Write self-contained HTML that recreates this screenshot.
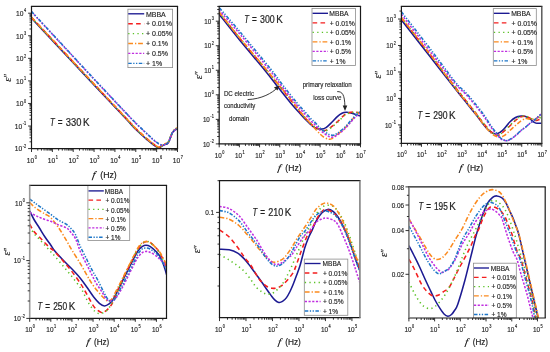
<!DOCTYPE html>
<html><head><meta charset="utf-8"><title>Dielectric loss spectra</title>
<style>html,body{margin:0;padding:0;background:#fff;width:550px;height:352px;overflow:hidden;font-family:"Liberation Sans",sans-serif}svg{display:block;will-change:transform}text{stroke:#1e1e1e;stroke-width:0.15px;paint-order:stroke}text.b{stroke-width:0.2px}</style>
</head><body>
<svg width="550" height="352" viewBox="0 0 550 352">
<rect width="550" height="352" fill="#fff"/>
<clipPath id="c1"><rect x="31.50" y="6.40" width="146.00" height="142.20"/></clipPath>
<g clip-path="url(#c1)" fill="none" stroke-width="1.55" stroke-linejoin="round">
<path d="M31.50 18.20 C36.25 23.27 50.25 38.20 60.00 48.60 C69.75 59.00 79.17 69.07 90.00 80.60 C100.83 92.13 117.27 109.57 125.00 117.80 C132.73 126.03 132.62 126.27 136.40 130.00 C140.18 133.73 144.87 137.73 147.70 140.20 C150.53 142.67 151.60 143.53 153.40 144.80 C155.20 146.07 156.95 147.67 158.50 147.80 C160.05 147.93 161.53 146.17 162.70 145.60 C163.87 145.03 164.70 144.73 165.50 144.40 C166.30 144.07 166.88 144.18 167.50 143.60 C168.12 143.02 168.67 142.02 169.20 140.90 C169.73 139.78 170.15 138.27 170.70 136.90 C171.25 135.53 171.87 133.78 172.50 132.70 C173.13 131.62 173.83 130.98 174.50 130.40 C175.17 129.82 175.83 129.50 176.50 129.20 C177.17 128.90 178.17 128.70 178.50 128.60" stroke="#1c1a92"/>
<path d="M31.80 17.60 C36.55 22.67 50.55 37.60 60.30 48.00 C70.05 58.40 79.47 68.47 90.30 80.00 C101.13 91.53 117.57 108.97 125.30 117.20 C133.03 125.43 132.92 125.67 136.70 129.40 C140.48 133.13 145.17 137.13 148.00 139.60 C150.83 142.07 151.90 142.93 153.70 144.20 C155.50 145.47 157.25 147.07 158.80 147.20 C160.35 147.33 161.83 145.57 163.00 145.00 C164.17 144.43 165.00 144.13 165.80 143.80 C166.60 143.47 167.18 143.58 167.80 143.00 C168.42 142.42 168.97 141.42 169.50 140.30 C170.03 139.18 170.45 137.67 171.00 136.30 C171.55 134.93 172.17 133.18 172.80 132.10 C173.43 131.02 174.13 130.38 174.80 129.80 C175.47 129.22 176.13 128.90 176.80 128.60 C177.47 128.30 178.47 128.10 178.80 128.00" stroke="#f41e1e" stroke-dasharray="4.6 3.3"/>
<path d="M31.50 17.80 C36.25 22.87 50.25 37.80 60.00 48.20 C69.75 58.60 79.17 68.67 90.00 80.20 C100.83 91.73 117.27 109.17 125.00 117.40 C132.73 125.63 132.62 125.87 136.40 129.60 C140.18 133.33 144.87 137.33 147.70 139.80 C150.53 142.27 151.60 143.13 153.40 144.40 C155.20 145.67 156.95 147.27 158.50 147.40 C160.05 147.53 161.53 145.77 162.70 145.20 C163.87 144.63 164.70 144.33 165.50 144.00 C166.30 143.67 166.88 143.78 167.50 143.20 C168.12 142.62 168.67 141.62 169.20 140.50 C169.73 139.38 170.15 137.87 170.70 136.50 C171.25 135.13 171.87 133.38 172.50 132.30 C173.13 131.22 173.83 130.58 174.50 130.00 C175.17 129.42 175.83 129.10 176.50 128.80 C177.17 128.50 178.17 128.30 178.50 128.20" stroke="#5cc228" stroke-dasharray="1.3 3.3"/>
<path d="M31.50 17.30 C36.25 22.37 50.25 37.30 60.00 47.70 C69.75 58.10 79.17 68.17 90.00 79.70 C100.83 91.23 117.27 108.67 125.00 116.90 C132.73 125.13 132.62 125.37 136.40 129.10 C140.18 132.83 144.87 136.83 147.70 139.30 C150.53 141.77 151.60 142.63 153.40 143.90 C155.20 145.17 156.95 146.77 158.50 146.90 C160.05 147.03 161.53 145.27 162.70 144.70 C163.87 144.13 164.70 143.83 165.50 143.50 C166.30 143.17 166.88 143.28 167.50 142.70 C168.12 142.12 168.67 141.12 169.20 140.00 C169.73 138.88 170.15 137.37 170.70 136.00 C171.25 134.63 171.87 132.88 172.50 131.80 C173.13 130.72 173.83 130.08 174.50 129.50 C175.17 128.92 175.83 128.60 176.50 128.30 C177.17 128.00 178.17 127.80 178.50 127.70" stroke="#fb8a1e" stroke-dasharray="4.8 2 1.3 1.8"/>
<path d="M31.50 11.80 C36.25 16.92 50.25 31.98 60.00 42.50 C69.75 53.02 79.17 63.30 90.00 74.90 C100.83 86.50 117.27 103.93 125.00 112.10 C132.73 120.27 132.62 120.15 136.40 123.90 C140.18 127.65 144.77 131.83 147.70 134.60 C150.63 137.37 152.10 138.90 154.00 140.50 C155.90 142.10 157.65 143.40 159.10 144.20 C160.55 145.00 161.63 145.28 162.70 145.30 C163.77 145.32 164.70 144.60 165.50 144.30 C166.30 144.00 166.88 144.08 167.50 143.50 C168.12 142.92 168.67 141.92 169.20 140.80 C169.73 139.68 170.15 138.17 170.70 136.80 C171.25 135.43 171.87 133.68 172.50 132.60 C173.13 131.52 173.83 130.88 174.50 130.30 C175.17 129.72 175.83 129.40 176.50 129.10 C177.17 128.80 178.17 128.60 178.50 128.50" stroke="#c02ee0" stroke-dasharray="2.2 1.5"/>
<path d="M31.50 11.50 C36.25 16.62 50.25 31.68 60.00 42.20 C69.75 52.72 79.17 63.00 90.00 74.60 C100.83 86.20 117.27 103.63 125.00 111.80 C132.73 119.97 132.62 119.85 136.40 123.60 C140.18 127.35 144.77 131.53 147.70 134.30 C150.63 137.07 152.10 138.60 154.00 140.20 C155.90 141.80 157.65 143.10 159.10 143.90 C160.55 144.70 161.63 144.98 162.70 145.00 C163.77 145.02 164.70 144.30 165.50 144.00 C166.30 143.70 166.88 143.78 167.50 143.20 C168.12 142.62 168.67 141.62 169.20 140.50 C169.73 139.38 170.15 137.87 170.70 136.50 C171.25 135.13 171.87 133.38 172.50 132.30 C173.13 131.22 173.83 130.58 174.50 130.00 C175.17 129.42 175.83 129.10 176.50 128.80 C177.17 128.50 178.17 128.30 178.50 128.20" stroke="#1d76c8" stroke-dasharray="3.5 1.5 1.3 1.5 1.3 1.5"/>
</g>
<rect x="127.90" y="9.20" width="44.70" height="58.40" fill="#fff" stroke="#8c8c8c" stroke-width="0.8"/>
<line x1="128.20" y1="13.80" x2="144.20" y2="13.80" stroke="#1c1a92" stroke-width="1.35"/>
<text x="145.92" y="16.58" font-size="7.20" font-family='"Liberation Sans", sans-serif' fill="#1e1e1e" textLength="19.85" lengthAdjust="spacingAndGlyphs">MBBA</text>
<line x1="128.20" y1="23.70" x2="144.20" y2="23.70" stroke="#f41e1e" stroke-width="1.35" stroke-dasharray="4.6 3.3"/>
<text x="145.97" y="26.48" font-size="7.20" font-family='"Liberation Sans", sans-serif' fill="#1e1e1e" textLength="25.90" lengthAdjust="spacingAndGlyphs">+ 0.01%</text>
<line x1="128.20" y1="33.60" x2="144.20" y2="33.60" stroke="#5cc228" stroke-width="1.35" stroke-dasharray="1.3 3.3"/>
<text x="145.97" y="36.38" font-size="7.20" font-family='"Liberation Sans", sans-serif' fill="#1e1e1e" textLength="25.90" lengthAdjust="spacingAndGlyphs">+ 0.05%</text>
<line x1="128.20" y1="43.50" x2="144.20" y2="43.50" stroke="#fb8a1e" stroke-width="1.35" stroke-dasharray="4.8 2 1.3 1.8"/>
<text x="145.97" y="46.28" font-size="7.20" font-family='"Liberation Sans", sans-serif' fill="#1e1e1e" textLength="22.01" lengthAdjust="spacingAndGlyphs">+ 0.1%</text>
<line x1="128.20" y1="53.40" x2="144.20" y2="53.40" stroke="#c02ee0" stroke-width="1.35" stroke-dasharray="2.2 1.5"/>
<text x="145.97" y="56.18" font-size="7.20" font-family='"Liberation Sans", sans-serif' fill="#1e1e1e" textLength="22.01" lengthAdjust="spacingAndGlyphs">+ 0.5%</text>
<line x1="128.20" y1="63.30" x2="144.20" y2="63.30" stroke="#1d76c8" stroke-width="1.35" stroke-dasharray="3.5 1.5 1.3 1.5 1.3 1.5"/>
<text x="145.97" y="66.08" font-size="7.20" font-family='"Liberation Sans", sans-serif' fill="#1e1e1e" textLength="16.16" lengthAdjust="spacingAndGlyphs">+ 1%</text>
<path d="M30.90 6.40 H178.10 M30.90 148.60 H178.10" fill="none" stroke="#1a1a1a" stroke-width="1.2"/>
<path d="M31.50 6.40 V148.60" fill="none" stroke="#1a1a1a" stroke-width="1.20"/>
<path d="M177.50 6.40 V148.60" fill="none" stroke="#1a1a1a" stroke-width="1.20"/>
<path d="M31.50 148.60v3.40 M37.78 148.60v2.00 M41.45 148.60v2.00 M44.06 148.60v2.00 M46.08 148.60v2.00 M47.73 148.60v2.00 M49.13 148.60v2.00 M50.34 148.60v2.00 M51.40 148.60v2.00 M52.36 148.60v3.40 M58.64 148.60v2.00 M62.31 148.60v2.00 M64.91 148.60v2.00 M66.94 148.60v2.00 M68.59 148.60v2.00 M69.98 148.60v2.00 M71.19 148.60v2.00 M72.26 148.60v2.00 M73.21 148.60v3.40 M79.49 148.60v2.00 M83.17 148.60v2.00 M85.77 148.60v2.00 M87.79 148.60v2.00 M89.44 148.60v2.00 M90.84 148.60v2.00 M92.05 148.60v2.00 M93.12 148.60v2.00 M94.07 148.60v3.40 M100.35 148.60v2.00 M104.02 148.60v2.00 M106.63 148.60v2.00 M108.65 148.60v2.00 M110.30 148.60v2.00 M111.70 148.60v2.00 M112.91 148.60v2.00 M113.97 148.60v2.00 M114.93 148.60v3.40 M121.21 148.60v2.00 M124.88 148.60v2.00 M127.49 148.60v2.00 M129.51 148.60v2.00 M131.16 148.60v2.00 M132.55 148.60v2.00 M133.76 148.60v2.00 M134.83 148.60v2.00 M135.79 148.60v3.40 M142.06 148.60v2.00 M145.74 148.60v2.00 M148.34 148.60v2.00 M150.36 148.60v2.00 M152.02 148.60v2.00 M153.41 148.60v2.00 M154.62 148.60v2.00 M155.69 148.60v2.00 M156.64 148.60v3.40 M162.92 148.60v2.00 M166.59 148.60v2.00 M169.20 148.60v2.00 M171.22 148.60v2.00 M172.87 148.60v2.00 M174.27 148.60v2.00 M175.48 148.60v2.00 M176.55 148.60v2.00 M177.50 148.60v3.40 M31.50 148.60h-3.40 M31.50 141.81h-2.00 M31.50 137.83h-2.00 M31.50 135.01h-2.00 M31.50 132.83h-2.00 M31.50 131.04h-2.00 M31.50 129.53h-2.00 M31.50 128.22h-2.00 M31.50 127.06h-2.00 M31.50 126.03h-3.40 M31.50 119.24h-2.00 M31.50 115.26h-2.00 M31.50 112.44h-2.00 M31.50 110.26h-2.00 M31.50 108.47h-2.00 M31.50 106.96h-2.00 M31.50 105.65h-2.00 M31.50 104.50h-2.00 M31.50 103.46h-3.40 M31.50 96.67h-2.00 M31.50 92.70h-2.00 M31.50 89.88h-2.00 M31.50 87.69h-2.00 M31.50 85.90h-2.00 M31.50 84.39h-2.00 M31.50 83.08h-2.00 M31.50 81.93h-2.00 M31.50 80.90h-3.40 M31.50 74.10h-2.00 M31.50 70.13h-2.00 M31.50 67.31h-2.00 M31.50 65.12h-2.00 M31.50 63.34h-2.00 M31.50 61.82h-2.00 M31.50 60.52h-2.00 M31.50 59.36h-2.00 M31.50 58.33h-3.40 M31.50 51.54h-2.00 M31.50 47.56h-2.00 M31.50 44.74h-2.00 M31.50 42.55h-2.00 M31.50 40.77h-2.00 M31.50 39.26h-2.00 M31.50 37.95h-2.00 M31.50 36.79h-2.00 M31.50 35.76h-3.40 M31.50 28.97h-2.00 M31.50 24.99h-2.00 M31.50 22.17h-2.00 M31.50 19.99h-2.00 M31.50 18.20h-2.00 M31.50 16.69h-2.00 M31.50 15.38h-2.00 M31.50 14.23h-2.00 M31.50 13.19h-3.40" stroke="#1a1a1a" stroke-width="0.9" fill="none"/>
<text transform="translate(31.90 162.60) scale(0.860 1)" font-size="7.80" font-family='"Liberation Sans", sans-serif' fill="#1e1e1e" text-anchor="middle">10<tspan dx="0.6" dy="-3.60" font-size="4.50">0</tspan></text>
<text transform="translate(52.76 162.60) scale(0.860 1)" font-size="7.80" font-family='"Liberation Sans", sans-serif' fill="#1e1e1e" text-anchor="middle">10<tspan dx="0.6" dy="-3.60" font-size="4.50">1</tspan></text>
<text transform="translate(73.61 162.60) scale(0.860 1)" font-size="7.80" font-family='"Liberation Sans", sans-serif' fill="#1e1e1e" text-anchor="middle">10<tspan dx="0.6" dy="-3.60" font-size="4.50">2</tspan></text>
<text transform="translate(94.47 162.60) scale(0.860 1)" font-size="7.80" font-family='"Liberation Sans", sans-serif' fill="#1e1e1e" text-anchor="middle">10<tspan dx="0.6" dy="-3.60" font-size="4.50">3</tspan></text>
<text transform="translate(115.33 162.60) scale(0.860 1)" font-size="7.80" font-family='"Liberation Sans", sans-serif' fill="#1e1e1e" text-anchor="middle">10<tspan dx="0.6" dy="-3.60" font-size="4.50">4</tspan></text>
<text transform="translate(136.19 162.60) scale(0.860 1)" font-size="7.80" font-family='"Liberation Sans", sans-serif' fill="#1e1e1e" text-anchor="middle">10<tspan dx="0.6" dy="-3.60" font-size="4.50">5</tspan></text>
<text transform="translate(157.04 162.60) scale(0.860 1)" font-size="7.80" font-family='"Liberation Sans", sans-serif' fill="#1e1e1e" text-anchor="middle">10<tspan dx="0.6" dy="-3.60" font-size="4.50">6</tspan></text>
<text transform="translate(177.90 162.60) scale(0.860 1)" font-size="7.80" font-family='"Liberation Sans", sans-serif' fill="#1e1e1e" text-anchor="middle">10<tspan dx="0.6" dy="-3.60" font-size="4.50">7</tspan></text>
<text transform="translate(26.20 151.41) scale(0.860 1)" font-size="7.80" font-family='"Liberation Sans", sans-serif' fill="#1e1e1e" text-anchor="end">10<tspan dx="0.6" dy="-3.60" font-size="4.50">-2</tspan></text>
<text transform="translate(26.20 128.84) scale(0.860 1)" font-size="7.80" font-family='"Liberation Sans", sans-serif' fill="#1e1e1e" text-anchor="end">10<tspan dx="0.6" dy="-3.60" font-size="4.50">-1</tspan></text>
<text transform="translate(26.20 106.27) scale(0.860 1)" font-size="7.80" font-family='"Liberation Sans", sans-serif' fill="#1e1e1e" text-anchor="end">10<tspan dx="0.6" dy="-3.60" font-size="4.50">0</tspan></text>
<text transform="translate(26.20 83.70) scale(0.860 1)" font-size="7.80" font-family='"Liberation Sans", sans-serif' fill="#1e1e1e" text-anchor="end">10<tspan dx="0.6" dy="-3.60" font-size="4.50">1</tspan></text>
<text transform="translate(26.20 61.14) scale(0.860 1)" font-size="7.80" font-family='"Liberation Sans", sans-serif' fill="#1e1e1e" text-anchor="end">10<tspan dx="0.6" dy="-3.60" font-size="4.50">2</tspan></text>
<text transform="translate(26.20 38.57) scale(0.860 1)" font-size="7.80" font-family='"Liberation Sans", sans-serif' fill="#1e1e1e" text-anchor="end">10<tspan dx="0.6" dy="-3.60" font-size="4.50">3</tspan></text>
<text transform="translate(26.20 16.00) scale(0.860 1)" font-size="7.80" font-family='"Liberation Sans", sans-serif' fill="#1e1e1e" text-anchor="end">10<tspan dx="0.6" dy="-3.60" font-size="4.50">4</tspan></text>
<text class="b" transform="translate(92.07 177.60) skewX(-10)" font-size="9.72" font-family='"Liberation Serif", serif' font-style="italic">f</text>
<text x="100.25" y="177.60" font-size="9.00" font-family='"Liberation Sans", sans-serif' fill="#1e1e1e" textLength="16.47" lengthAdjust="spacingAndGlyphs" class="b">(Hz)</text>
<text transform="translate(10.60 81.70) rotate(-90)" font-size="10.50" font-family='"Liberation Serif", serif' font-style="italic" fill="#1e1e1e">&#949;<tspan dx="0.3" dy="-0.2" font-size="8.92" font-family='"Liberation Sans", sans-serif' font-style="normal">&#8242;&#8242;</tspan></text>
<text x="49.90" y="125.70" font-size="10.00" font-family='"Liberation Sans", sans-serif' font-style="italic" fill="#1e1e1e" textLength="4.74" lengthAdjust="spacingAndGlyphs" class="b">T</text>
<text x="57.81" y="125.70" font-size="10.00" font-family='"Liberation Sans", sans-serif' fill="#1e1e1e" textLength="4.79" lengthAdjust="spacingAndGlyphs" class="b">=</text>
<text x="65.75" y="125.70" font-size="10.00" font-family='"Liberation Sans", sans-serif' fill="#1e1e1e" textLength="15.61" lengthAdjust="spacingAndGlyphs" class="b">330</text>
<text x="82.89" y="125.70" font-size="10.00" font-family='"Liberation Sans", sans-serif' fill="#1e1e1e" textLength="6.52" lengthAdjust="spacingAndGlyphs" class="b">K</text>
<clipPath id="c2"><rect x="219.20" y="6.40" width="141.30" height="137.50"/></clipPath>
<g clip-path="url(#c2)" fill="none" stroke-width="1.55" stroke-linejoin="round">
<path d="M219.20 14.40 C222.67 18.77 232.37 31.25 240.00 40.60 C247.63 49.95 258.70 62.77 265.00 70.50 C271.30 78.23 273.38 81.40 277.80 87.00 C282.22 92.60 287.80 99.68 291.50 104.10 C295.20 108.52 297.58 110.85 300.00 113.50 C302.42 116.15 303.87 117.87 306.00 120.00 C308.13 122.13 310.97 124.88 312.80 126.30 C314.63 127.72 315.48 128.03 317.00 128.50 C318.52 128.97 320.40 129.25 321.90 129.10 C323.40 128.95 324.57 128.52 326.00 127.60 C327.43 126.68 328.62 125.43 330.50 123.60 C332.38 121.77 335.38 118.32 337.30 116.60 C339.22 114.88 340.52 114.02 342.00 113.30 C343.48 112.58 344.87 112.40 346.20 112.30 C347.53 112.20 348.53 112.38 350.00 112.70 C351.47 113.02 353.17 113.60 355.00 114.20 C356.83 114.80 360.00 115.95 361.00 116.30" stroke="#1c1a92"/>
<path d="M219.20 12.60 C222.67 16.92 232.37 29.18 240.00 38.50 C247.63 47.82 258.50 60.67 265.00 68.50 C271.50 76.33 274.33 79.75 279.00 85.50 C283.67 91.25 289.00 98.00 293.00 103.00 C297.00 108.00 300.17 112.17 303.00 115.50 C305.83 118.83 308.00 121.08 310.00 123.00 C312.00 124.92 313.52 126.02 315.00 127.00 C316.48 127.98 317.48 128.30 318.90 128.90 C320.32 129.50 322.17 130.43 323.50 130.60 C324.83 130.77 325.50 130.60 326.90 129.90 C328.30 129.20 330.08 127.82 331.90 126.40 C333.72 124.98 335.62 123.38 337.80 121.40 C339.98 119.42 342.80 116.02 345.00 114.50 C347.20 112.98 349.17 112.67 351.00 112.30 C352.83 111.93 354.33 112.18 356.00 112.30 C357.67 112.42 360.17 112.88 361.00 113.00" stroke="#f41e1e" stroke-dasharray="4.6 3.3"/>
<path d="M219.60 12.90 C223.07 17.22 232.77 29.48 240.40 38.80 C248.03 48.12 258.90 60.97 265.40 68.80 C271.90 76.63 274.73 80.05 279.40 85.80 C284.07 91.55 289.40 98.30 293.40 103.30 C297.40 108.30 300.57 112.47 303.40 115.80 C306.23 119.13 308.40 121.38 310.40 123.30 C312.40 125.22 313.92 126.32 315.40 127.30 C316.88 128.28 317.88 128.60 319.30 129.20 C320.72 129.80 322.57 130.73 323.90 130.90 C325.23 131.07 325.90 130.90 327.30 130.20 C328.70 129.50 330.48 128.12 332.30 126.70 C334.12 125.28 336.02 123.68 338.20 121.70 C340.38 119.72 343.20 116.32 345.40 114.80 C347.60 113.28 349.57 112.97 351.40 112.60 C353.23 112.23 354.73 112.48 356.40 112.60 C358.07 112.72 360.57 113.18 361.40 113.30" stroke="#5cc228" stroke-dasharray="1.3 3.3"/>
<path d="M219.20 12.30 C222.67 16.62 232.37 28.92 240.00 38.20 C247.63 47.48 258.50 60.20 265.00 68.00 C271.50 75.80 274.33 79.25 279.00 85.00 C283.67 90.75 288.67 97.08 293.00 102.50 C297.33 107.92 301.67 113.52 305.00 117.50 C308.33 121.48 310.52 123.67 313.00 126.40 C315.48 129.13 317.98 132.03 319.90 133.90 C321.82 135.77 323.00 136.72 324.50 137.60 C326.00 138.48 327.65 139.03 328.90 139.20 C330.15 139.37 331.00 139.07 332.00 138.60 C333.00 138.13 333.57 137.45 334.90 136.40 C336.23 135.35 338.32 133.72 340.00 132.30 C341.68 130.88 343.18 129.78 345.00 127.90 C346.82 126.02 349.07 123.07 350.90 121.00 C352.73 118.93 354.32 117.03 356.00 115.50 C357.68 113.97 360.17 112.42 361.00 111.80" stroke="#fb8a1e" stroke-dasharray="4.8 2 1.3 1.8"/>
<path d="M219.20 10.00 C222.67 14.03 231.52 24.08 240.00 34.20 C248.48 44.32 262.95 61.78 270.10 70.70 C277.25 79.62 278.48 82.02 282.90 87.70 C287.32 93.38 292.92 100.38 296.60 104.80 C300.28 109.22 302.58 111.47 305.00 114.20 C307.42 116.93 309.43 119.45 311.10 121.20 C312.77 122.95 313.52 123.20 315.00 124.70 C316.48 126.20 318.35 128.67 320.00 130.20 C321.65 131.73 323.40 132.85 324.90 133.90 C326.40 134.95 327.67 135.97 329.00 136.50 C330.33 137.03 331.57 137.32 332.90 137.10 C334.23 136.88 334.98 136.62 337.00 135.20 C339.02 133.78 342.68 130.82 345.00 128.60 C347.32 126.38 349.07 123.92 350.90 121.90 C352.73 119.88 354.32 118.00 356.00 116.50 C357.68 115.00 360.17 113.50 361.00 112.90" stroke="#c02ee0" stroke-dasharray="2.2 1.5"/>
<path d="M219.60 8.10 C223.07 12.13 231.92 22.18 240.40 32.30 C248.88 42.42 263.35 59.88 270.50 68.80 C277.65 77.72 278.88 80.12 283.30 85.80 C287.72 91.48 293.32 98.48 297.00 102.90 C300.68 107.32 302.98 109.57 305.40 112.30 C307.82 115.03 309.83 117.55 311.50 119.30 C313.17 121.05 313.92 121.30 315.40 122.80 C316.88 124.30 318.75 126.77 320.40 128.30 C322.05 129.83 323.80 130.95 325.30 132.00 C326.80 133.05 328.07 134.07 329.40 134.60 C330.73 135.13 331.97 135.42 333.30 135.20 C334.63 134.98 335.38 134.72 337.40 133.30 C339.42 131.88 343.08 128.92 345.40 126.70 C347.72 124.48 349.47 122.02 351.30 120.00 C353.13 117.98 354.72 116.10 356.40 114.60 C358.08 113.10 360.57 111.60 361.40 111.00" stroke="#1d76c8" stroke-dasharray="3.5 1.5 1.3 1.5 1.3 1.5"/>
</g>
<rect x="312.00" y="8.40" width="43.40" height="57.10" fill="#fff" stroke="#8c8c8c" stroke-width="0.8"/>
<line x1="312.60" y1="13.30" x2="328.00" y2="13.30" stroke="#1c1a92" stroke-width="1.35"/>
<text x="329.24" y="16.08" font-size="7.20" font-family='"Liberation Sans", sans-serif' fill="#1e1e1e" textLength="19.26" lengthAdjust="spacingAndGlyphs">MBBA</text>
<line x1="312.60" y1="22.80" x2="328.00" y2="22.80" stroke="#f41e1e" stroke-width="1.35" stroke-dasharray="4.6 3.3"/>
<text x="329.78" y="25.58" font-size="7.20" font-family='"Liberation Sans", sans-serif' fill="#1e1e1e" textLength="25.13" lengthAdjust="spacingAndGlyphs">+ 0.01%</text>
<line x1="312.60" y1="32.30" x2="328.00" y2="32.30" stroke="#5cc228" stroke-width="1.35" stroke-dasharray="1.3 3.3"/>
<text x="329.78" y="35.08" font-size="7.20" font-family='"Liberation Sans", sans-serif' fill="#1e1e1e" textLength="25.13" lengthAdjust="spacingAndGlyphs">+ 0.05%</text>
<line x1="312.60" y1="41.80" x2="328.00" y2="41.80" stroke="#fb8a1e" stroke-width="1.35" stroke-dasharray="4.8 2 1.3 1.8"/>
<text x="329.78" y="44.58" font-size="7.20" font-family='"Liberation Sans", sans-serif' fill="#1e1e1e" textLength="21.35" lengthAdjust="spacingAndGlyphs">+ 0.1%</text>
<line x1="312.60" y1="51.30" x2="328.00" y2="51.30" stroke="#c02ee0" stroke-width="1.35" stroke-dasharray="2.2 1.5"/>
<text x="329.78" y="54.08" font-size="7.20" font-family='"Liberation Sans", sans-serif' fill="#1e1e1e" textLength="21.35" lengthAdjust="spacingAndGlyphs">+ 0.5%</text>
<line x1="312.60" y1="60.80" x2="328.00" y2="60.80" stroke="#1d76c8" stroke-width="1.35" stroke-dasharray="3.5 1.5 1.3 1.5 1.3 1.5"/>
<text x="329.78" y="63.58" font-size="7.20" font-family='"Liberation Sans", sans-serif' fill="#1e1e1e" textLength="15.68" lengthAdjust="spacingAndGlyphs">+ 1%</text>
<path d="M218.60 6.40 H361.10 M218.60 143.90 H361.10" fill="none" stroke="#1a1a1a" stroke-width="1.2"/>
<path d="M219.20 6.40 V143.90" fill="none" stroke="#1a1a1a" stroke-width="1.20"/>
<path d="M360.50 6.40 V143.90" fill="none" stroke="#1a1a1a" stroke-width="1.20"/>
<path d="M219.20 143.90v3.40 M225.28 143.90v2.00 M228.83 143.90v2.00 M231.35 143.90v2.00 M233.31 143.90v2.00 M234.91 143.90v2.00 M236.26 143.90v2.00 M237.43 143.90v2.00 M238.46 143.90v2.00 M239.39 143.90v3.40 M245.46 143.90v2.00 M249.02 143.90v2.00 M251.54 143.90v2.00 M253.49 143.90v2.00 M255.09 143.90v2.00 M256.44 143.90v2.00 M257.62 143.90v2.00 M258.65 143.90v2.00 M259.57 143.90v3.40 M265.65 143.90v2.00 M269.20 143.90v2.00 M271.72 143.90v2.00 M273.68 143.90v2.00 M275.28 143.90v2.00 M276.63 143.90v2.00 M277.80 143.90v2.00 M278.83 143.90v2.00 M279.76 143.90v3.40 M285.83 143.90v2.00 M289.39 143.90v2.00 M291.91 143.90v2.00 M293.87 143.90v2.00 M295.46 143.90v2.00 M296.82 143.90v2.00 M297.99 143.90v2.00 M299.02 143.90v2.00 M299.94 143.90v3.40 M306.02 143.90v2.00 M309.57 143.90v2.00 M312.10 143.90v2.00 M314.05 143.90v2.00 M315.65 143.90v2.00 M317.00 143.90v2.00 M318.17 143.90v2.00 M319.20 143.90v2.00 M320.13 143.90v3.40 M326.21 143.90v2.00 M329.76 143.90v2.00 M332.28 143.90v2.00 M334.24 143.90v2.00 M335.84 143.90v2.00 M337.19 143.90v2.00 M338.36 143.90v2.00 M339.39 143.90v2.00 M340.31 143.90v3.40 M346.39 143.90v2.00 M349.95 143.90v2.00 M352.47 143.90v2.00 M354.42 143.90v2.00 M356.02 143.90v2.00 M357.37 143.90v2.00 M358.54 143.90v2.00 M359.58 143.90v2.00 M360.50 143.90v3.40 M219.20 143.90h-3.40 M219.20 136.51h-2.00 M219.20 132.19h-2.00 M219.20 129.13h-2.00 M219.20 126.75h-2.00 M219.20 124.80h-2.00 M219.20 123.16h-2.00 M219.20 121.74h-2.00 M219.20 120.48h-2.00 M219.20 119.36h-3.40 M219.20 111.97h-2.00 M219.20 107.65h-2.00 M219.20 104.58h-2.00 M219.20 102.21h-2.00 M219.20 100.26h-2.00 M219.20 98.62h-2.00 M219.20 97.20h-2.00 M219.20 95.94h-2.00 M219.20 94.82h-3.40 M219.20 87.43h-2.00 M219.20 83.11h-2.00 M219.20 80.04h-2.00 M219.20 77.67h-2.00 M219.20 75.72h-2.00 M219.20 74.08h-2.00 M219.20 72.66h-2.00 M219.20 71.40h-2.00 M219.20 70.28h-3.40 M219.20 62.89h-2.00 M219.20 58.57h-2.00 M219.20 55.50h-2.00 M219.20 53.13h-2.00 M219.20 51.18h-2.00 M219.20 49.54h-2.00 M219.20 48.12h-2.00 M219.20 46.86h-2.00 M219.20 45.74h-3.40 M219.20 38.35h-2.00 M219.20 34.03h-2.00 M219.20 30.96h-2.00 M219.20 28.59h-2.00 M219.20 26.64h-2.00 M219.20 25.00h-2.00 M219.20 23.58h-2.00 M219.20 22.32h-2.00 M219.20 21.20h-3.40 M219.20 13.81h-2.00 M219.20 9.49h-2.00 M219.20 6.42h-2.00" stroke="#1a1a1a" stroke-width="0.9" fill="none"/>
<text transform="translate(219.60 157.60) scale(0.860 1)" font-size="7.30" font-family='"Liberation Sans", sans-serif' fill="#1e1e1e" text-anchor="middle">10<tspan dx="0.6" dy="-3.60" font-size="4.50">0</tspan></text>
<text transform="translate(239.79 157.60) scale(0.860 1)" font-size="7.30" font-family='"Liberation Sans", sans-serif' fill="#1e1e1e" text-anchor="middle">10<tspan dx="0.6" dy="-3.60" font-size="4.50">1</tspan></text>
<text transform="translate(259.97 157.60) scale(0.860 1)" font-size="7.30" font-family='"Liberation Sans", sans-serif' fill="#1e1e1e" text-anchor="middle">10<tspan dx="0.6" dy="-3.60" font-size="4.50">2</tspan></text>
<text transform="translate(280.16 157.60) scale(0.860 1)" font-size="7.30" font-family='"Liberation Sans", sans-serif' fill="#1e1e1e" text-anchor="middle">10<tspan dx="0.6" dy="-3.60" font-size="4.50">3</tspan></text>
<text transform="translate(300.34 157.60) scale(0.860 1)" font-size="7.30" font-family='"Liberation Sans", sans-serif' fill="#1e1e1e" text-anchor="middle">10<tspan dx="0.6" dy="-3.60" font-size="4.50">4</tspan></text>
<text transform="translate(320.53 157.60) scale(0.860 1)" font-size="7.30" font-family='"Liberation Sans", sans-serif' fill="#1e1e1e" text-anchor="middle">10<tspan dx="0.6" dy="-3.60" font-size="4.50">5</tspan></text>
<text transform="translate(340.71 157.60) scale(0.860 1)" font-size="7.30" font-family='"Liberation Sans", sans-serif' fill="#1e1e1e" text-anchor="middle">10<tspan dx="0.6" dy="-3.60" font-size="4.50">6</tspan></text>
<text transform="translate(360.90 157.60) scale(0.860 1)" font-size="7.30" font-family='"Liberation Sans", sans-serif' fill="#1e1e1e" text-anchor="middle">10<tspan dx="0.6" dy="-3.60" font-size="4.50">7</tspan></text>
<text transform="translate(213.80 146.53) scale(0.860 1)" font-size="7.30" font-family='"Liberation Sans", sans-serif' fill="#1e1e1e" text-anchor="end">10<tspan dx="0.6" dy="-3.60" font-size="4.50">-2</tspan></text>
<text transform="translate(213.80 121.99) scale(0.860 1)" font-size="7.30" font-family='"Liberation Sans", sans-serif' fill="#1e1e1e" text-anchor="end">10<tspan dx="0.6" dy="-3.60" font-size="4.50">-1</tspan></text>
<text transform="translate(213.80 97.45) scale(0.860 1)" font-size="7.30" font-family='"Liberation Sans", sans-serif' fill="#1e1e1e" text-anchor="end">10<tspan dx="0.6" dy="-3.60" font-size="4.50">0</tspan></text>
<text transform="translate(213.80 72.91) scale(0.860 1)" font-size="7.30" font-family='"Liberation Sans", sans-serif' fill="#1e1e1e" text-anchor="end">10<tspan dx="0.6" dy="-3.60" font-size="4.50">1</tspan></text>
<text transform="translate(213.80 48.37) scale(0.860 1)" font-size="7.30" font-family='"Liberation Sans", sans-serif' fill="#1e1e1e" text-anchor="end">10<tspan dx="0.6" dy="-3.60" font-size="4.50">2</tspan></text>
<text transform="translate(213.80 23.83) scale(0.860 1)" font-size="7.30" font-family='"Liberation Sans", sans-serif' fill="#1e1e1e" text-anchor="end">10<tspan dx="0.6" dy="-3.60" font-size="4.50">3</tspan></text>
<text class="b" transform="translate(277.46 171.20) skewX(-10)" font-size="9.50" font-family='"Liberation Serif", serif' font-style="italic">f</text>
<text x="285.37" y="171.20" font-size="8.80" font-family='"Liberation Sans", sans-serif' fill="#1e1e1e" textLength="16.15" lengthAdjust="spacingAndGlyphs" class="b">(Hz)</text>
<text transform="translate(201.60 79.20) rotate(-90)" font-size="10.50" font-family='"Liberation Serif", serif' font-style="italic" fill="#1e1e1e">&#949;<tspan dx="0.3" dy="-0.2" font-size="8.92" font-family='"Liberation Sans", sans-serif' font-style="normal">&#8242;&#8242;</tspan></text>
<text x="244.20" y="23.00" font-size="10.00" font-family='"Liberation Sans", sans-serif' font-style="italic" fill="#1e1e1e" textLength="4.74" lengthAdjust="spacingAndGlyphs" class="b">T</text>
<text x="252.11" y="23.00" font-size="10.00" font-family='"Liberation Sans", sans-serif' fill="#1e1e1e" textLength="4.79" lengthAdjust="spacingAndGlyphs" class="b">=</text>
<text x="260.07" y="23.00" font-size="10.00" font-family='"Liberation Sans", sans-serif' fill="#1e1e1e" textLength="14.67" lengthAdjust="spacingAndGlyphs" class="b">300</text>
<text x="276.29" y="23.00" font-size="10.00" font-family='"Liberation Sans", sans-serif' fill="#1e1e1e" textLength="6.52" lengthAdjust="spacingAndGlyphs" class="b">K</text>
<text x="223.89" y="95.70" font-size="6.90" font-family='"Liberation Sans", sans-serif' fill="#1e1e1e" textLength="30.18" lengthAdjust="spacingAndGlyphs">DC electric</text>
<text x="224.05" y="108.40" font-size="6.90" font-family='"Liberation Sans", sans-serif' fill="#1e1e1e" textLength="31.27" lengthAdjust="spacingAndGlyphs">conductivity</text>
<text x="229.04" y="120.70" font-size="6.90" font-family='"Liberation Sans", sans-serif' fill="#1e1e1e" textLength="20.06" lengthAdjust="spacingAndGlyphs">domain</text>
<text x="302.70" y="87.30" font-size="6.90" font-family='"Liberation Sans", sans-serif' fill="#1e1e1e" textLength="48.99" lengthAdjust="spacingAndGlyphs">primary relaxation</text>
<text x="313.18" y="99.90" font-size="6.90" font-family='"Liberation Sans", sans-serif' fill="#1e1e1e" textLength="28.20" lengthAdjust="spacingAndGlyphs">loss curve</text>
<path d="M247.6 99.6 C262 99 272 93 277.4 87.8" fill="none" stroke="#222" stroke-width="0.9"/><path d="M279.2 85.6 L273.9 87.4 L277.6 90.6 Z" fill="#222"/>
<path d="M337.2 91.6 C342.5 91.4 344.6 95 344.9 106" fill="none" stroke="#222" stroke-width="0.9"/><path d="M345.0 111.0 L342.7 105.6 L347.3 105.6 Z" fill="#222"/>
<clipPath id="c3"><rect x="401.40" y="6.40" width="140.40" height="137.00"/></clipPath>
<g clip-path="url(#c3)" fill="none" stroke-width="1.55" stroke-linejoin="round">
<path d="M401.40 20.00 C406.17 26.10 421.07 45.18 430.00 56.60 C438.93 68.02 449.13 81.05 455.00 88.50 C460.87 95.95 461.78 97.03 465.20 101.30 C468.62 105.57 472.37 110.12 475.50 114.10 C478.63 118.08 481.45 122.22 484.00 125.20 C486.55 128.18 488.78 130.53 490.80 132.00 C492.82 133.47 494.48 134.00 496.10 134.00 C497.72 134.00 499.17 132.85 500.50 132.00 C501.83 131.15 502.55 130.57 504.10 128.90 C505.65 127.23 507.90 123.90 509.80 122.00 C511.70 120.10 513.62 118.50 515.50 117.50 C517.38 116.50 519.40 116.18 521.10 116.00 C522.80 115.82 524.18 115.87 525.70 116.40 C527.22 116.93 528.68 118.17 530.20 119.20 C531.72 120.23 533.58 121.92 534.80 122.60 C536.02 123.28 536.22 123.18 537.50 123.30 C538.78 123.42 541.67 123.30 542.50 123.30" stroke="#1c1a92"/>
<path d="M401.40 18.00 C406.17 24.10 421.07 43.13 430.00 54.60 C438.93 66.07 449.13 79.27 455.00 86.80 C460.87 94.33 461.78 95.48 465.20 99.80 C468.62 104.12 472.37 108.67 475.50 112.70 C478.63 116.73 481.45 120.87 484.00 124.00 C486.55 127.13 488.78 129.65 490.80 131.50 C492.82 133.35 494.57 134.58 496.10 135.10 C497.63 135.62 498.67 135.27 500.00 134.60 C501.33 133.93 502.47 132.53 504.10 131.10 C505.73 129.67 507.90 127.80 509.80 126.00 C511.70 124.20 513.62 121.82 515.50 120.30 C517.38 118.78 519.40 117.55 521.10 116.90 C522.80 116.25 524.18 116.20 525.70 116.40 C527.22 116.60 528.68 117.45 530.20 118.10 C531.72 118.75 533.50 119.98 534.80 120.30 C536.10 120.62 536.72 120.32 538.00 120.00 C539.28 119.68 541.75 118.67 542.50 118.40" stroke="#f41e1e" stroke-dasharray="4.6 3.3"/>
<path d="M401.40 17.80 C406.17 23.90 421.07 42.93 430.00 54.40 C438.93 65.87 449.13 79.07 455.00 86.60 C460.87 94.13 461.78 95.28 465.20 99.60 C468.62 103.92 472.37 108.47 475.50 112.50 C478.63 116.53 481.45 120.67 484.00 123.80 C486.55 126.93 488.78 129.43 490.80 131.30 C492.82 133.17 494.57 134.48 496.10 135.00 C497.63 135.52 498.67 135.10 500.00 134.40 C501.33 133.70 502.47 132.28 504.10 130.80 C505.73 129.32 507.90 127.33 509.80 125.50 C511.70 123.67 513.62 121.30 515.50 119.80 C517.38 118.30 519.40 117.10 521.10 116.50 C522.80 115.90 524.18 115.95 525.70 116.20 C527.22 116.45 528.68 117.40 530.20 118.00 C531.72 118.60 533.42 119.72 534.80 119.80 C536.18 119.88 537.22 119.13 538.50 118.50 C539.78 117.87 541.83 116.42 542.50 116.00" stroke="#5cc228" stroke-dasharray="1.3 3.3"/>
<path d="M401.40 17.60 C406.17 23.67 421.07 42.32 430.00 54.00 C438.93 65.68 449.13 79.95 455.00 87.70 C460.87 95.45 461.78 96.20 465.20 100.50 C468.62 104.80 472.37 109.42 475.50 113.50 C478.63 117.58 481.45 121.78 484.00 125.00 C486.55 128.22 488.78 130.92 490.80 132.80 C492.82 134.68 494.57 135.60 496.10 136.30 C497.63 137.00 498.67 137.10 500.00 137.00 C501.33 136.90 502.47 136.77 504.10 135.70 C505.73 134.63 507.90 132.30 509.80 130.60 C511.70 128.90 513.62 127.12 515.50 125.50 C517.38 123.88 519.40 122.05 521.10 120.90 C522.80 119.75 524.18 118.88 525.70 118.60 C527.22 118.32 528.68 119.10 530.20 119.20 C531.72 119.30 533.50 119.48 534.80 119.20 C536.10 118.92 536.72 118.20 538.00 117.50 C539.28 116.80 541.75 115.42 542.50 115.00" stroke="#fb8a1e" stroke-dasharray="4.8 2 1.3 1.8"/>
<path d="M401.40 14.40 C406.17 20.55 421.07 39.80 430.00 51.30 C438.93 62.80 449.13 76.35 455.00 83.40 C460.87 90.45 461.78 89.90 465.20 93.60 C468.62 97.30 472.37 101.77 475.50 105.60 C478.63 109.43 481.45 113.05 484.00 116.60 C486.55 120.15 488.78 124.08 490.80 126.90 C492.82 129.72 494.48 131.57 496.10 133.50 C497.72 135.43 498.88 137.28 500.50 138.50 C502.12 139.72 504.25 140.60 505.80 140.80 C507.35 141.00 508.18 140.55 509.80 139.70 C511.42 138.85 513.62 137.22 515.50 135.70 C517.38 134.18 519.40 132.02 521.10 130.60 C522.80 129.18 524.18 128.43 525.70 127.20 C527.22 125.97 528.68 124.43 530.20 123.20 C531.72 121.97 533.42 120.92 534.80 119.80 C536.18 118.68 537.22 117.63 538.50 116.50 C539.78 115.37 541.83 113.58 542.50 113.00" stroke="#c02ee0" stroke-dasharray="2.2 1.5"/>
<path d="M401.40 11.80 C406.17 17.92 421.07 36.85 430.00 48.50 C438.93 60.15 449.13 74.45 455.00 81.70 C460.87 88.95 461.78 88.28 465.20 92.00 C468.62 95.72 472.37 100.17 475.50 104.00 C478.63 107.83 481.45 111.42 484.00 115.00 C486.55 118.58 488.78 122.58 490.80 125.50 C492.82 128.42 494.48 130.42 496.10 132.50 C497.72 134.58 498.88 136.65 500.50 138.00 C502.12 139.35 504.25 140.35 505.80 140.60 C507.35 140.85 508.18 140.35 509.80 139.50 C511.42 138.65 513.62 137.02 515.50 135.50 C517.38 133.98 519.40 131.82 521.10 130.40 C522.80 128.98 524.18 128.23 525.70 127.00 C527.22 125.77 528.68 124.23 530.20 123.00 C531.72 121.77 533.42 120.72 534.80 119.60 C536.18 118.48 537.22 117.43 538.50 116.30 C539.78 115.17 541.83 113.38 542.50 112.80" stroke="#1d76c8" stroke-dasharray="3.5 1.5 1.3 1.5 1.3 1.5"/>
</g>
<rect x="493.30" y="8.60" width="43.00" height="56.90" fill="#fff" stroke="#8c8c8c" stroke-width="0.8"/>
<line x1="493.90" y1="13.30" x2="509.60" y2="13.30" stroke="#1c1a92" stroke-width="1.35"/>
<text x="511.13" y="16.08" font-size="7.20" font-family='"Liberation Sans", sans-serif' fill="#1e1e1e" textLength="19.47" lengthAdjust="spacingAndGlyphs">MBBA</text>
<line x1="493.90" y1="22.80" x2="509.60" y2="22.80" stroke="#f41e1e" stroke-width="1.35" stroke-dasharray="4.6 3.3"/>
<text x="511.57" y="25.58" font-size="7.20" font-family='"Liberation Sans", sans-serif' fill="#1e1e1e" textLength="25.40" lengthAdjust="spacingAndGlyphs">+ 0.01%</text>
<line x1="493.90" y1="32.30" x2="509.60" y2="32.30" stroke="#5cc228" stroke-width="1.35" stroke-dasharray="1.3 3.3"/>
<text x="511.57" y="35.08" font-size="7.20" font-family='"Liberation Sans", sans-serif' fill="#1e1e1e" textLength="25.40" lengthAdjust="spacingAndGlyphs">+ 0.05%</text>
<line x1="493.90" y1="41.80" x2="509.60" y2="41.80" stroke="#fb8a1e" stroke-width="1.35" stroke-dasharray="4.8 2 1.3 1.8"/>
<text x="511.57" y="44.58" font-size="7.20" font-family='"Liberation Sans", sans-serif' fill="#1e1e1e" textLength="21.58" lengthAdjust="spacingAndGlyphs">+ 0.1%</text>
<line x1="493.90" y1="51.30" x2="509.60" y2="51.30" stroke="#c02ee0" stroke-width="1.35" stroke-dasharray="2.2 1.5"/>
<text x="511.57" y="54.08" font-size="7.20" font-family='"Liberation Sans", sans-serif' fill="#1e1e1e" textLength="21.58" lengthAdjust="spacingAndGlyphs">+ 0.5%</text>
<line x1="493.90" y1="60.80" x2="509.60" y2="60.80" stroke="#1d76c8" stroke-width="1.35" stroke-dasharray="3.5 1.5 1.3 1.5 1.3 1.5"/>
<text x="511.57" y="63.58" font-size="7.20" font-family='"Liberation Sans", sans-serif' fill="#1e1e1e" textLength="15.85" lengthAdjust="spacingAndGlyphs">+ 1%</text>
<path d="M400.80 6.40 H542.40 M400.80 143.40 H542.40" fill="none" stroke="#1a1a1a" stroke-width="1.2"/>
<path d="M401.40 6.40 V143.40" fill="none" stroke="#1a1a1a" stroke-width="1.20"/>
<path d="M541.80 6.40 V143.40" fill="none" stroke="#505050" stroke-width="1.40"/>
<path d="M401.40 143.40v3.40 M407.44 143.40v2.00 M410.97 143.40v2.00 M413.48 143.40v2.00 M415.42 143.40v2.00 M417.01 143.40v2.00 M418.35 143.40v2.00 M419.51 143.40v2.00 M420.54 143.40v2.00 M421.46 143.40v3.40 M427.49 143.40v2.00 M431.03 143.40v2.00 M433.53 143.40v2.00 M435.48 143.40v2.00 M437.06 143.40v2.00 M438.41 143.40v2.00 M439.57 143.40v2.00 M440.60 143.40v2.00 M441.51 143.40v3.40 M447.55 143.40v2.00 M451.08 143.40v2.00 M453.59 143.40v2.00 M455.53 143.40v2.00 M457.12 143.40v2.00 M458.46 143.40v2.00 M459.63 143.40v2.00 M460.65 143.40v2.00 M461.57 143.40v3.40 M467.61 143.40v2.00 M471.14 143.40v2.00 M473.65 143.40v2.00 M475.59 143.40v2.00 M477.18 143.40v2.00 M478.52 143.40v2.00 M479.68 143.40v2.00 M480.71 143.40v2.00 M481.63 143.40v3.40 M487.67 143.40v2.00 M491.20 143.40v2.00 M493.70 143.40v2.00 M495.65 143.40v2.00 M497.24 143.40v2.00 M498.58 143.40v2.00 M499.74 143.40v2.00 M500.77 143.40v2.00 M501.69 143.40v3.40 M507.72 143.40v2.00 M511.26 143.40v2.00 M513.76 143.40v2.00 M515.71 143.40v2.00 M517.29 143.40v2.00 M518.64 143.40v2.00 M519.80 143.40v2.00 M520.83 143.40v2.00 M521.74 143.40v3.40 M527.78 143.40v2.00 M531.31 143.40v2.00 M533.82 143.40v2.00 M535.76 143.40v2.00 M537.35 143.40v2.00 M538.69 143.40v2.00 M539.86 143.40v2.00 M540.88 143.40v2.00 M541.80 143.40v3.40 M401.40 143.40h-2.00 M401.40 138.74h-2.00 M401.40 135.43h-2.00 M401.40 132.87h-2.00 M401.40 130.77h-2.00 M401.40 129.00h-2.00 M401.40 127.46h-2.00 M401.40 126.11h-2.00 M401.40 124.90h-3.40 M401.40 116.93h-2.00 M401.40 112.27h-2.00 M401.40 108.96h-2.00 M401.40 106.40h-2.00 M401.40 104.30h-2.00 M401.40 102.53h-2.00 M401.40 101.00h-2.00 M401.40 99.64h-2.00 M401.40 98.43h-3.40 M401.40 90.46h-2.00 M401.40 85.80h-2.00 M401.40 82.49h-2.00 M401.40 79.93h-2.00 M401.40 77.83h-2.00 M401.40 76.06h-2.00 M401.40 74.53h-2.00 M401.40 73.17h-2.00 M401.40 71.96h-3.40 M401.40 63.99h-2.00 M401.40 59.33h-2.00 M401.40 56.03h-2.00 M401.40 53.46h-2.00 M401.40 51.37h-2.00 M401.40 49.59h-2.00 M401.40 48.06h-2.00 M401.40 46.70h-2.00 M401.40 45.49h-3.40 M401.40 37.53h-2.00 M401.40 32.87h-2.00 M401.40 29.56h-2.00 M401.40 26.99h-2.00 M401.40 24.90h-2.00 M401.40 23.13h-2.00 M401.40 21.59h-2.00 M401.40 20.24h-2.00 M401.40 19.03h-3.40 M401.40 11.06h-2.00" stroke="#1a1a1a" stroke-width="0.9" fill="none"/>
<text transform="translate(401.80 157.20) scale(0.860 1)" font-size="7.30" font-family='"Liberation Sans", sans-serif' fill="#1e1e1e" text-anchor="middle">10<tspan dx="0.6" dy="-3.60" font-size="4.50">0</tspan></text>
<text transform="translate(421.86 157.20) scale(0.860 1)" font-size="7.30" font-family='"Liberation Sans", sans-serif' fill="#1e1e1e" text-anchor="middle">10<tspan dx="0.6" dy="-3.60" font-size="4.50">1</tspan></text>
<text transform="translate(441.91 157.20) scale(0.860 1)" font-size="7.30" font-family='"Liberation Sans", sans-serif' fill="#1e1e1e" text-anchor="middle">10<tspan dx="0.6" dy="-3.60" font-size="4.50">2</tspan></text>
<text transform="translate(461.97 157.20) scale(0.860 1)" font-size="7.30" font-family='"Liberation Sans", sans-serif' fill="#1e1e1e" text-anchor="middle">10<tspan dx="0.6" dy="-3.60" font-size="4.50">3</tspan></text>
<text transform="translate(482.03 157.20) scale(0.860 1)" font-size="7.30" font-family='"Liberation Sans", sans-serif' fill="#1e1e1e" text-anchor="middle">10<tspan dx="0.6" dy="-3.60" font-size="4.50">4</tspan></text>
<text transform="translate(502.09 157.20) scale(0.860 1)" font-size="7.30" font-family='"Liberation Sans", sans-serif' fill="#1e1e1e" text-anchor="middle">10<tspan dx="0.6" dy="-3.60" font-size="4.50">5</tspan></text>
<text transform="translate(522.14 157.20) scale(0.860 1)" font-size="7.30" font-family='"Liberation Sans", sans-serif' fill="#1e1e1e" text-anchor="middle">10<tspan dx="0.6" dy="-3.60" font-size="4.50">6</tspan></text>
<text transform="translate(542.20 157.20) scale(0.860 1)" font-size="7.30" font-family='"Liberation Sans", sans-serif' fill="#1e1e1e" text-anchor="middle">10<tspan dx="0.6" dy="-3.60" font-size="4.50">7</tspan></text>
<text transform="translate(395.80 127.53) scale(0.860 1)" font-size="7.30" font-family='"Liberation Sans", sans-serif' fill="#1e1e1e" text-anchor="end">10<tspan dx="0.6" dy="-3.60" font-size="4.50">-1</tspan></text>
<text transform="translate(395.80 101.06) scale(0.860 1)" font-size="7.30" font-family='"Liberation Sans", sans-serif' fill="#1e1e1e" text-anchor="end">10<tspan dx="0.6" dy="-3.60" font-size="4.50">0</tspan></text>
<text transform="translate(395.80 74.59) scale(0.860 1)" font-size="7.30" font-family='"Liberation Sans", sans-serif' fill="#1e1e1e" text-anchor="end">10<tspan dx="0.6" dy="-3.60" font-size="4.50">1</tspan></text>
<text transform="translate(395.80 48.12) scale(0.860 1)" font-size="7.30" font-family='"Liberation Sans", sans-serif' fill="#1e1e1e" text-anchor="end">10<tspan dx="0.6" dy="-3.60" font-size="4.50">2</tspan></text>
<text transform="translate(395.80 21.65) scale(0.860 1)" font-size="7.30" font-family='"Liberation Sans", sans-serif' fill="#1e1e1e" text-anchor="end">10<tspan dx="0.6" dy="-3.60" font-size="4.50">3</tspan></text>
<text class="b" transform="translate(459.06 171.20) skewX(-10)" font-size="9.50" font-family='"Liberation Serif", serif' font-style="italic">f</text>
<text x="467.07" y="171.20" font-size="8.80" font-family='"Liberation Sans", sans-serif' fill="#1e1e1e" textLength="16.05" lengthAdjust="spacingAndGlyphs" class="b">(Hz)</text>
<text transform="translate(380.80 78.60) rotate(-90)" font-size="10.50" font-family='"Liberation Serif", serif' font-style="italic" fill="#1e1e1e">&#949;<tspan dx="0.3" dy="-0.2" font-size="8.92" font-family='"Liberation Sans", sans-serif' font-style="normal">&#8242;&#8242;</tspan></text>
<text x="417.40" y="118.80" font-size="10.00" font-family='"Liberation Sans", sans-serif' font-style="italic" fill="#1e1e1e" textLength="4.74" lengthAdjust="spacingAndGlyphs" class="b">T</text>
<text x="425.31" y="118.80" font-size="10.00" font-family='"Liberation Sans", sans-serif' fill="#1e1e1e" textLength="4.79" lengthAdjust="spacingAndGlyphs" class="b">=</text>
<text x="433.17" y="118.80" font-size="10.00" font-family='"Liberation Sans", sans-serif' fill="#1e1e1e" textLength="14.36" lengthAdjust="spacingAndGlyphs" class="b">290</text>
<text x="449.09" y="118.80" font-size="10.00" font-family='"Liberation Sans", sans-serif' fill="#1e1e1e" textLength="6.52" lengthAdjust="spacingAndGlyphs" class="b">K</text>
<clipPath id="c4"><rect x="29.70" y="185.40" width="136.80" height="133.00"/></clipPath>
<g clip-path="url(#c4)" fill="none" stroke-width="1.55" stroke-linejoin="round">
<path d="M29.70 210.90 C30.42 212.33 32.38 216.65 34.00 219.50 C35.62 222.35 37.57 225.08 39.40 228.00 C41.23 230.92 43.12 234.17 45.00 237.00 C46.88 239.83 49.03 242.63 50.70 245.00 C52.37 247.37 52.87 248.62 55.00 251.20 C57.13 253.78 60.67 257.53 63.50 260.50 C66.33 263.47 69.17 266.02 72.00 269.00 C74.83 271.98 77.95 275.27 80.50 278.40 C83.05 281.53 85.10 284.70 87.30 287.80 C89.50 290.90 91.68 294.42 93.70 297.00 C95.72 299.58 97.60 301.82 99.40 303.30 C101.20 304.78 102.90 305.80 104.50 305.90 C106.10 306.00 107.57 304.97 109.00 303.90 C110.43 302.83 111.35 302.33 113.10 299.50 C114.85 296.67 117.37 291.12 119.50 286.90 C121.63 282.68 123.77 278.45 125.90 274.20 C128.03 269.95 130.70 264.60 132.30 261.40 C133.90 258.20 134.38 256.98 135.50 255.00 C136.62 253.02 137.83 250.95 139.00 249.50 C140.17 248.05 141.33 247.00 142.50 246.30 C143.67 245.60 144.75 245.28 146.00 245.30 C147.25 245.32 148.28 245.33 150.00 246.40 C151.72 247.47 154.63 250.02 156.30 251.70 C157.97 253.38 158.73 254.17 160.00 256.50 C161.27 258.83 162.73 262.45 163.90 265.70 C165.07 268.95 166.48 274.28 167.00 276.00" stroke="#1c1a92"/>
<path d="M29.70 224.20 C30.42 225.42 32.38 229.37 34.00 231.50 C35.62 233.63 37.57 235.08 39.40 237.00 C41.23 238.92 43.12 241.10 45.00 243.00 C46.88 244.90 49.03 246.90 50.70 248.40 C52.37 249.90 52.87 249.83 55.00 252.00 C57.13 254.17 60.67 258.13 63.50 261.40 C66.33 264.67 69.17 267.92 72.00 271.60 C74.83 275.28 78.33 280.27 80.50 283.50 C82.67 286.73 83.47 288.33 85.00 291.00 C86.53 293.67 88.07 296.70 89.70 299.50 C91.33 302.30 92.90 305.65 94.80 307.80 C96.70 309.95 99.48 311.73 101.10 312.40 C102.72 313.07 103.08 312.65 104.50 311.80 C105.92 310.95 108.10 309.10 109.60 307.30 C111.10 305.50 111.97 304.22 113.50 301.00 C115.03 297.78 116.85 292.47 118.80 288.00 C120.75 283.53 123.07 278.63 125.20 274.20 C127.33 269.77 129.88 264.85 131.60 261.40 C133.32 257.95 134.27 255.82 135.50 253.50 C136.73 251.18 137.83 249.17 139.00 247.50 C140.17 245.83 141.25 244.48 142.50 243.50 C143.75 242.52 145.25 241.80 146.50 241.60 C147.75 241.40 148.37 241.23 150.00 242.30 C151.63 243.37 154.63 246.13 156.30 248.00 C157.97 249.87 158.73 251.33 160.00 253.50 C161.27 255.67 162.73 258.42 163.90 261.00 C165.07 263.58 166.48 267.67 167.00 269.00" stroke="#f41e1e" stroke-dasharray="4.6 3.3"/>
<path d="M29.70 226.80 C30.42 227.92 32.38 231.42 34.00 233.50 C35.62 235.58 37.57 237.30 39.40 239.30 C41.23 241.30 43.12 243.42 45.00 245.50 C46.88 247.58 49.03 250.00 50.70 251.80 C52.37 253.60 52.87 253.85 55.00 256.30 C57.13 258.75 60.67 263.10 63.50 266.50 C66.33 269.90 69.17 273.15 72.00 276.70 C74.83 280.25 78.42 284.75 80.50 287.80 C82.58 290.85 83.07 292.32 84.50 295.00 C85.93 297.68 87.38 301.18 89.10 303.90 C90.82 306.62 93.08 309.70 94.80 311.30 C96.52 312.90 97.70 313.42 99.40 313.50 C101.10 313.58 103.30 312.88 105.00 311.80 C106.70 310.72 108.18 308.88 109.60 307.00 C111.02 305.12 111.97 303.58 113.50 300.50 C115.03 297.42 116.88 292.83 118.80 288.50 C120.72 284.17 122.92 279.00 125.00 274.50 C127.08 270.00 129.58 265.00 131.30 261.50 C133.02 258.00 134.02 255.83 135.30 253.50 C136.58 251.17 137.80 249.20 139.00 247.50 C140.20 245.80 141.25 244.30 142.50 243.30 C143.75 242.30 145.25 241.63 146.50 241.50 C147.75 241.37 148.37 241.33 150.00 242.50 C151.63 243.67 154.63 246.58 156.30 248.50 C157.97 250.42 158.73 251.83 160.00 254.00 C161.27 256.17 162.73 258.92 163.90 261.50 C165.07 264.08 166.48 268.17 167.00 269.50" stroke="#5cc228" stroke-dasharray="1.3 3.3"/>
<path d="M29.70 202.50 C30.58 203.33 33.02 205.92 35.00 207.50 C36.98 209.08 39.77 210.83 41.60 212.00 C43.43 213.17 44.48 213.55 46.00 214.50 C47.52 215.45 49.03 216.12 50.70 217.70 C52.37 219.28 54.12 221.45 56.00 224.00 C57.88 226.55 60.17 230.08 62.00 233.00 C63.83 235.92 65.33 238.62 67.00 241.50 C68.67 244.38 69.75 246.57 72.00 250.30 C74.25 254.03 77.95 259.63 80.50 263.90 C83.05 268.17 85.47 272.72 87.30 275.90 C89.13 279.08 89.87 280.57 91.50 283.00 C93.13 285.43 95.22 288.17 97.10 290.50 C98.98 292.83 101.07 295.25 102.80 297.00 C104.53 298.75 106.22 300.42 107.50 301.00 C108.78 301.58 109.58 301.17 110.50 300.50 C111.42 299.83 111.72 299.27 113.00 297.00 C114.28 294.73 116.27 290.70 118.20 286.90 C120.13 283.10 122.47 278.45 124.60 274.20 C126.73 269.95 129.27 264.85 131.00 261.40 C132.73 257.95 133.75 255.90 135.00 253.50 C136.25 251.10 137.33 248.75 138.50 247.00 C139.67 245.25 140.83 243.92 142.00 243.00 C143.17 242.08 144.17 241.58 145.50 241.50 C146.83 241.42 148.20 241.42 150.00 242.50 C151.80 243.58 154.63 246.33 156.30 248.00 C157.97 249.67 158.73 250.58 160.00 252.50 C161.27 254.42 162.73 257.25 163.90 259.50 C165.07 261.75 166.48 264.92 167.00 266.00" stroke="#fb8a1e" stroke-dasharray="4.8 2 1.3 1.8"/>
<path d="M29.70 212.50 C30.58 212.97 33.12 214.38 35.00 215.30 C36.88 216.22 38.38 217.00 41.00 218.00 C43.62 219.00 47.87 220.20 50.70 221.30 C53.53 222.40 55.35 223.48 58.00 224.60 C60.65 225.72 64.43 226.68 66.60 228.00 C68.77 229.32 69.48 230.67 71.00 232.50 C72.52 234.33 74.12 235.75 75.70 239.00 C77.28 242.25 78.57 247.57 80.50 252.00 C82.43 256.43 85.32 261.62 87.30 265.60 C89.28 269.58 90.95 273.00 92.40 275.90 C93.85 278.80 94.47 280.42 96.00 283.00 C97.53 285.58 99.80 288.65 101.60 291.40 C103.40 294.15 105.32 297.97 106.80 299.50 C108.28 301.03 109.47 300.53 110.50 300.60 C111.53 300.67 112.13 300.25 113.00 299.90 C113.87 299.55 114.08 300.67 115.70 298.50 C117.32 296.33 120.47 290.95 122.70 286.90 C124.93 282.85 126.97 278.45 129.10 274.20 C131.23 269.95 133.85 264.43 135.50 261.40 C137.15 258.37 137.83 257.48 139.00 256.00 C140.17 254.52 141.33 253.27 142.50 252.50 C143.67 251.73 144.75 251.45 146.00 251.40 C147.25 251.35 148.28 251.43 150.00 252.20 C151.72 252.97 154.63 254.78 156.30 256.00 C157.97 257.22 158.73 258.33 160.00 259.50 C161.27 260.67 162.73 261.67 163.90 263.00 C165.07 264.33 166.48 266.75 167.00 267.50" stroke="#c02ee0" stroke-dasharray="2.2 1.5"/>
<path d="M29.70 199.00 C30.58 199.67 33.12 201.58 35.00 203.00 C36.88 204.42 38.38 205.62 41.00 207.50 C43.62 209.38 47.87 212.25 50.70 214.30 C53.53 216.35 55.35 218.10 58.00 219.80 C60.65 221.50 64.43 223.05 66.60 224.50 C68.77 225.95 69.53 226.83 71.00 228.50 C72.47 230.17 73.82 231.43 75.40 234.50 C76.98 237.57 78.52 242.57 80.50 246.90 C82.48 251.23 85.32 256.53 87.30 260.50 C89.28 264.47 90.67 267.45 92.40 270.70 C94.13 273.95 95.78 276.37 97.70 280.00 C99.62 283.63 102.18 289.25 103.90 292.50 C105.62 295.75 106.82 298.08 108.00 299.50 C109.18 300.92 109.93 301.00 111.00 301.00 C112.07 301.00 112.67 301.85 114.40 299.50 C116.13 297.15 119.17 291.12 121.40 286.90 C123.63 282.68 125.67 278.45 127.80 274.20 C129.93 269.95 132.50 264.77 134.20 261.40 C135.90 258.03 136.77 256.00 138.00 254.00 C139.23 252.00 140.35 250.40 141.60 249.40 C142.85 248.40 144.10 248.07 145.50 248.00 C146.90 247.93 148.20 248.08 150.00 249.00 C151.80 249.92 154.63 252.00 156.30 253.50 C157.97 255.00 158.73 256.17 160.00 258.00 C161.27 259.83 162.73 262.25 163.90 264.50 C165.07 266.75 166.48 270.33 167.00 271.50" stroke="#1d76c8" stroke-dasharray="3.5 1.5 1.3 1.5 1.3 1.5"/>
</g>
<rect x="87.90" y="185.40" width="41.80" height="55.20" fill="#fff" stroke="#8c8c8c" stroke-width="0.8"/>
<line x1="88.50" y1="190.90" x2="103.80" y2="190.90" stroke="#1c1a92" stroke-width="1.35"/>
<text x="104.77" y="194.07" font-size="6.90" font-family='"Liberation Sans", sans-serif' fill="#1e1e1e" textLength="18.24" lengthAdjust="spacingAndGlyphs">MBBA</text>
<line x1="88.50" y1="200.16" x2="103.80" y2="200.16" stroke="#f41e1e" stroke-width="1.35" stroke-dasharray="4.6 3.3"/>
<text x="105.59" y="203.33" font-size="6.90" font-family='"Liberation Sans", sans-serif' fill="#1e1e1e" textLength="23.80" lengthAdjust="spacingAndGlyphs">+ 0.01%</text>
<line x1="88.50" y1="209.42" x2="103.80" y2="209.42" stroke="#5cc228" stroke-width="1.35" stroke-dasharray="1.3 3.3"/>
<text x="105.59" y="212.59" font-size="6.90" font-family='"Liberation Sans", sans-serif' fill="#1e1e1e" textLength="23.80" lengthAdjust="spacingAndGlyphs">+ 0.05%</text>
<line x1="88.50" y1="218.68" x2="103.80" y2="218.68" stroke="#fb8a1e" stroke-width="1.35" stroke-dasharray="4.8 2 1.3 1.8"/>
<text x="105.59" y="221.85" font-size="6.90" font-family='"Liberation Sans", sans-serif' fill="#1e1e1e" textLength="20.22" lengthAdjust="spacingAndGlyphs">+ 0.1%</text>
<line x1="88.50" y1="227.94" x2="103.80" y2="227.94" stroke="#c02ee0" stroke-width="1.35" stroke-dasharray="2.2 1.5"/>
<text x="105.59" y="231.11" font-size="6.90" font-family='"Liberation Sans", sans-serif' fill="#1e1e1e" textLength="20.22" lengthAdjust="spacingAndGlyphs">+ 0.5%</text>
<line x1="88.50" y1="237.20" x2="103.80" y2="237.20" stroke="#1d76c8" stroke-width="1.35" stroke-dasharray="3.5 1.5 1.3 1.5 1.3 1.5"/>
<text x="105.59" y="240.37" font-size="6.90" font-family='"Liberation Sans", sans-serif' fill="#1e1e1e" textLength="14.85" lengthAdjust="spacingAndGlyphs">+ 1%</text>
<path d="M29.10 185.40 H167.10 M29.10 318.40 H167.10" fill="none" stroke="#1a1a1a" stroke-width="1.2"/>
<path d="M29.70 185.40 V318.40" fill="none" stroke="#9a9a9a" stroke-width="1.60"/>
<path d="M166.50 185.40 V318.40" fill="none" stroke="#1a1a1a" stroke-width="1.20"/>
<path d="M29.70 318.40v3.40 M36.06 318.40v2.00 M39.78 318.40v2.00 M42.42 318.40v2.00 M44.46 318.40v2.00 M46.14 318.40v2.00 M47.55 318.40v2.00 M48.77 318.40v2.00 M49.85 318.40v2.00 M50.82 318.40v3.40 M57.18 318.40v2.00 M60.90 318.40v2.00 M63.54 318.40v2.00 M65.58 318.40v2.00 M67.26 318.40v2.00 M68.67 318.40v2.00 M69.89 318.40v2.00 M70.98 318.40v2.00 M71.94 318.40v3.40 M78.30 318.40v2.00 M82.02 318.40v2.00 M84.66 318.40v2.00 M86.70 318.40v2.00 M88.38 318.40v2.00 M89.79 318.40v2.00 M91.02 318.40v2.00 M92.10 318.40v2.00 M93.06 318.40v3.40 M99.42 318.40v2.00 M103.14 318.40v2.00 M105.78 318.40v2.00 M107.83 318.40v2.00 M109.50 318.40v2.00 M110.91 318.40v2.00 M112.14 318.40v2.00 M113.22 318.40v2.00 M114.18 318.40v3.40 M120.54 318.40v2.00 M124.26 318.40v2.00 M126.90 318.40v2.00 M128.95 318.40v2.00 M130.62 318.40v2.00 M132.03 318.40v2.00 M133.26 318.40v2.00 M134.34 318.40v2.00 M135.30 318.40v3.40 M141.66 318.40v2.00 M145.38 318.40v2.00 M148.02 318.40v2.00 M150.07 318.40v2.00 M151.74 318.40v2.00 M153.15 318.40v2.00 M154.38 318.40v2.00 M155.46 318.40v2.00 M156.43 318.40v3.40 M162.78 318.40v2.00 M29.70 318.40h-3.40 M29.70 301.00h-2.00 M29.70 290.82h-2.00 M29.70 283.60h-2.00 M29.70 278.00h-2.00 M29.70 273.42h-2.00 M29.70 269.55h-2.00 M29.70 266.20h-2.00 M29.70 263.24h-2.00 M29.70 260.60h-3.40 M29.70 243.20h-2.00 M29.70 233.02h-2.00 M29.70 225.80h-2.00 M29.70 220.20h-2.00 M29.70 215.62h-2.00 M29.70 211.75h-2.00 M29.70 208.40h-2.00 M29.70 205.44h-2.00 M29.70 202.80h-3.40" stroke="#1a1a1a" stroke-width="0.9" fill="none"/>
<text transform="translate(30.10 331.60) scale(0.860 1)" font-size="7.50" font-family='"Liberation Sans", sans-serif' fill="#1e1e1e" text-anchor="middle">10<tspan dx="0.6" dy="-3.60" font-size="4.50">0</tspan></text>
<text transform="translate(51.22 331.60) scale(0.860 1)" font-size="7.50" font-family='"Liberation Sans", sans-serif' fill="#1e1e1e" text-anchor="middle">10<tspan dx="0.6" dy="-3.60" font-size="4.50">1</tspan></text>
<text transform="translate(72.34 331.60) scale(0.860 1)" font-size="7.50" font-family='"Liberation Sans", sans-serif' fill="#1e1e1e" text-anchor="middle">10<tspan dx="0.6" dy="-3.60" font-size="4.50">2</tspan></text>
<text transform="translate(93.46 331.60) scale(0.860 1)" font-size="7.50" font-family='"Liberation Sans", sans-serif' fill="#1e1e1e" text-anchor="middle">10<tspan dx="0.6" dy="-3.60" font-size="4.50">3</tspan></text>
<text transform="translate(114.58 331.60) scale(0.860 1)" font-size="7.50" font-family='"Liberation Sans", sans-serif' fill="#1e1e1e" text-anchor="middle">10<tspan dx="0.6" dy="-3.60" font-size="4.50">4</tspan></text>
<text transform="translate(135.70 331.60) scale(0.860 1)" font-size="7.50" font-family='"Liberation Sans", sans-serif' fill="#1e1e1e" text-anchor="middle">10<tspan dx="0.6" dy="-3.60" font-size="4.50">5</tspan></text>
<text transform="translate(156.83 331.60) scale(0.860 1)" font-size="7.50" font-family='"Liberation Sans", sans-serif' fill="#1e1e1e" text-anchor="middle">10<tspan dx="0.6" dy="-3.60" font-size="4.50">6</tspan></text>
<text transform="translate(24.90 321.10) scale(0.860 1)" font-size="7.50" font-family='"Liberation Sans", sans-serif' fill="#1e1e1e" text-anchor="end">10<tspan dx="0.6" dy="-3.60" font-size="4.50">-2</tspan></text>
<text transform="translate(24.90 263.30) scale(0.860 1)" font-size="7.50" font-family='"Liberation Sans", sans-serif' fill="#1e1e1e" text-anchor="end">10<tspan dx="0.6" dy="-3.60" font-size="4.50">-1</tspan></text>
<text transform="translate(24.90 205.50) scale(0.860 1)" font-size="7.50" font-family='"Liberation Sans", sans-serif' fill="#1e1e1e" text-anchor="end">10<tspan dx="0.6" dy="-3.60" font-size="4.50">0</tspan></text>
<text class="b" transform="translate(86.36 345.40) skewX(-10)" font-size="9.50" font-family='"Liberation Serif", serif' font-style="italic">f</text>
<text x="93.99" y="345.40" font-size="8.80" font-family='"Liberation Sans", sans-serif' fill="#1e1e1e" textLength="15.30" lengthAdjust="spacingAndGlyphs" class="b">(Hz)</text>
<text transform="translate(10.10 255.50) rotate(-90)" font-size="10.50" font-family='"Liberation Serif", serif' font-style="italic" fill="#1e1e1e">&#949;<tspan dx="0.3" dy="-0.2" font-size="8.92" font-family='"Liberation Sans", sans-serif' font-style="normal">&#8242;&#8242;</tspan></text>
<text x="37.40" y="310.00" font-size="10.00" font-family='"Liberation Sans", sans-serif' font-style="italic" fill="#1e1e1e" textLength="4.74" lengthAdjust="spacingAndGlyphs" class="b">T</text>
<text x="45.31" y="310.00" font-size="10.00" font-family='"Liberation Sans", sans-serif' fill="#1e1e1e" textLength="4.79" lengthAdjust="spacingAndGlyphs" class="b">=</text>
<text x="53.18" y="310.00" font-size="10.00" font-family='"Liberation Sans", sans-serif' fill="#1e1e1e" textLength="14.05" lengthAdjust="spacingAndGlyphs" class="b">250</text>
<text x="68.79" y="310.00" font-size="10.00" font-family='"Liberation Sans", sans-serif' fill="#1e1e1e" textLength="6.52" lengthAdjust="spacingAndGlyphs" class="b">K</text>
<clipPath id="c5"><rect x="219.50" y="180.70" width="140.40" height="137.00"/></clipPath>
<g clip-path="url(#c5)" fill="none" stroke-width="1.55" stroke-linejoin="round">
<path d="M219.50 249.30 C221.12 249.38 226.17 249.15 229.20 249.80 C232.23 250.45 235.15 251.65 237.70 253.20 C240.25 254.75 242.23 256.68 244.50 259.10 C246.77 261.52 249.03 264.72 251.30 267.70 C253.57 270.68 256.28 274.48 258.10 277.00 C259.92 279.52 260.72 280.67 262.20 282.80 C263.68 284.93 265.53 287.70 267.00 289.80 C268.47 291.90 269.67 293.67 271.00 295.40 C272.33 297.13 273.70 299.03 275.00 300.20 C276.30 301.37 277.55 302.20 278.80 302.40 C280.05 302.60 281.22 302.20 282.50 301.40 C283.78 300.60 285.25 299.25 286.50 297.60 C287.75 295.95 288.88 293.72 290.00 291.50 C291.12 289.28 292.12 286.97 293.20 284.30 C294.28 281.63 295.33 278.72 296.50 275.50 C297.67 272.28 298.82 269.63 300.20 265.00 C301.58 260.37 303.37 252.37 304.80 247.70 C306.23 243.03 307.63 239.78 308.80 237.00 C309.97 234.22 310.53 233.72 311.80 231.00 C313.07 228.28 314.70 223.73 316.40 220.70 C318.10 217.67 320.12 214.68 322.00 212.80 C323.88 210.92 325.80 209.60 327.70 209.40 C329.60 209.20 331.68 210.33 333.40 211.60 C335.12 212.87 336.30 214.43 338.00 217.00 C339.70 219.57 341.85 223.42 343.60 227.00 C345.35 230.58 346.80 234.03 348.50 238.50 C350.20 242.97 352.38 249.72 353.80 253.80 C355.22 257.88 355.80 259.63 357.00 263.00 C358.20 266.37 360.33 272.17 361.00 274.00" stroke="#1c1a92"/>
<path d="M219.50 229.80 C221.12 231.00 226.17 234.05 229.20 237.00 C232.23 239.95 235.15 244.10 237.70 247.50 C240.25 250.90 242.23 254.32 244.50 257.40 C246.77 260.48 249.03 262.63 251.30 266.00 C253.57 269.37 256.28 274.85 258.10 277.60 C259.92 280.35 260.72 281.02 262.20 282.50 C263.68 283.98 265.35 285.53 267.00 286.50 C268.65 287.47 270.43 288.08 272.10 288.30 C273.77 288.52 275.33 288.28 277.00 287.80 C278.67 287.32 280.35 286.70 282.10 285.40 C283.85 284.10 285.65 282.15 287.50 280.00 C289.35 277.85 291.73 275.00 293.20 272.50 C294.67 270.00 295.25 267.75 296.30 265.00 C297.35 262.25 298.47 258.88 299.50 256.00 C300.53 253.12 301.25 250.97 302.50 247.70 C303.75 244.43 305.45 239.47 307.00 236.40 C308.55 233.33 310.23 232.12 311.80 229.30 C313.37 226.48 314.87 222.30 316.40 219.50 C317.93 216.70 319.40 214.17 321.00 212.50 C322.60 210.83 323.93 209.45 326.00 209.50 C328.07 209.55 331.40 211.38 333.40 212.80 C335.40 214.22 336.30 215.55 338.00 218.00 C339.70 220.45 341.85 224.00 343.60 227.50 C345.35 231.00 346.80 234.67 348.50 239.00 C350.20 243.33 352.38 249.67 353.80 253.50 C355.22 257.33 355.80 258.92 357.00 262.00 C358.20 265.08 360.33 270.33 361.00 272.00" stroke="#f41e1e" stroke-dasharray="4.6 3.3"/>
<path d="M219.50 254.60 C221.12 255.50 226.17 258.10 229.20 260.00 C232.23 261.90 235.15 264.08 237.70 266.00 C240.25 267.92 242.27 269.17 244.50 271.50 C246.73 273.83 249.18 277.42 251.10 280.00 C253.02 282.58 254.15 284.98 256.00 287.00 C257.85 289.02 260.25 290.88 262.20 292.10 C264.15 293.32 265.68 294.30 267.70 294.30 C269.72 294.30 271.90 293.77 274.30 292.10 C276.70 290.43 279.98 286.98 282.10 284.30 C284.22 281.62 285.30 279.22 287.00 276.00 C288.70 272.78 290.80 268.33 292.30 265.00 C293.80 261.67 294.77 258.88 296.00 256.00 C297.23 253.12 298.23 251.12 299.70 247.70 C301.17 244.28 303.00 239.28 304.80 235.50 C306.60 231.72 308.57 228.60 310.50 225.00 C312.43 221.40 314.48 216.88 316.40 213.90 C318.32 210.92 320.07 208.53 322.00 207.10 C323.93 205.67 326.10 205.40 328.00 205.30 C329.90 205.20 331.73 205.47 333.40 206.50 C335.07 207.53 336.30 209.08 338.00 211.50 C339.70 213.92 341.85 217.42 343.60 221.00 C345.35 224.58 346.80 228.33 348.50 233.00 C350.20 237.67 352.38 244.83 353.80 249.00 C355.22 253.17 355.80 254.83 357.00 258.00 C358.20 261.17 360.33 266.33 361.00 268.00" stroke="#5cc228" stroke-dasharray="1.3 3.3"/>
<path d="M219.50 217.30 C221.07 217.60 225.67 217.73 228.90 219.10 C232.13 220.47 235.82 222.88 238.90 225.50 C241.98 228.12 244.80 231.83 247.40 234.80 C250.00 237.77 252.57 240.93 254.50 243.30 C256.43 245.67 257.25 246.88 259.00 249.00 C260.75 251.12 263.17 254.08 265.00 256.00 C266.83 257.92 268.50 259.47 270.00 260.50 C271.50 261.53 272.50 262.12 274.00 262.20 C275.50 262.28 277.28 261.75 279.00 261.00 C280.72 260.25 282.28 259.78 284.30 257.70 C286.32 255.62 288.92 251.78 291.10 248.50 C293.28 245.22 295.00 241.75 297.40 238.00 C299.80 234.25 303.10 229.63 305.50 226.00 C307.90 222.37 309.98 219.07 311.80 216.20 C313.62 213.33 314.70 210.78 316.40 208.80 C318.10 206.82 320.23 205.25 322.00 204.30 C323.77 203.35 325.10 202.82 327.00 203.10 C328.90 203.38 331.57 204.52 333.40 206.00 C335.23 207.48 336.30 209.15 338.00 212.00 C339.70 214.85 341.85 219.10 343.60 223.10 C345.35 227.10 346.80 231.30 348.50 236.00 C350.20 240.70 352.38 247.47 353.80 251.30 C355.22 255.13 355.80 256.22 357.00 259.00 C358.20 261.78 360.33 266.50 361.00 268.00" stroke="#fb8a1e" stroke-dasharray="4.8 2 1.3 1.8"/>
<path d="M219.50 206.40 C221.07 206.75 225.67 206.97 228.90 208.50 C232.13 210.03 235.82 212.52 238.90 215.60 C241.98 218.68 244.80 223.45 247.40 227.00 C250.00 230.55 252.62 234.18 254.50 236.90 C256.38 239.62 257.12 240.70 258.70 243.30 C260.28 245.90 262.12 249.63 264.00 252.50 C265.88 255.37 268.10 258.52 270.00 260.50 C271.90 262.48 273.73 263.85 275.40 264.40 C277.07 264.95 278.52 264.37 280.00 263.80 C281.48 263.23 282.80 262.13 284.30 261.00 C285.80 259.87 287.77 258.00 289.00 257.00 C290.23 256.00 290.48 256.55 291.70 255.00 C292.92 253.45 294.50 250.53 296.30 247.70 C298.10 244.87 301.05 240.12 302.50 238.00 C303.95 235.88 303.45 236.65 305.00 235.00 C306.55 233.35 309.90 230.28 311.80 228.10 C313.70 225.92 314.70 223.42 316.40 221.90 C318.10 220.38 320.40 219.65 322.00 219.00 C323.60 218.35 324.10 217.80 326.00 218.00 C327.90 218.20 331.40 219.03 333.40 220.20 C335.40 221.37 336.30 222.17 338.00 225.00 C339.70 227.83 341.85 233.20 343.60 237.20 C345.35 241.20 346.80 244.53 348.50 249.00 C350.20 253.47 352.38 259.83 353.80 264.00 C355.22 268.17 355.80 270.33 357.00 274.00 C358.20 277.67 360.33 284.00 361.00 286.00" stroke="#c02ee0" stroke-dasharray="2.2 1.5"/>
<path d="M219.50 210.60 C221.07 210.97 225.67 211.13 228.90 212.80 C232.13 214.47 235.82 217.42 238.90 220.60 C241.98 223.78 244.80 228.48 247.40 231.90 C250.00 235.32 252.62 238.62 254.50 241.10 C256.38 243.58 257.12 244.48 258.70 246.80 C260.28 249.12 262.12 252.38 264.00 255.00 C265.88 257.62 268.10 260.65 270.00 262.50 C271.90 264.35 273.73 265.65 275.40 266.10 C277.07 266.55 278.52 265.85 280.00 265.20 C281.48 264.55 282.63 263.90 284.30 262.20 C285.97 260.50 288.38 257.42 290.00 255.00 C291.62 252.58 292.30 250.80 294.00 247.70 C295.70 244.60 298.37 239.18 300.20 236.40 C302.03 233.62 303.07 233.62 305.00 231.00 C306.93 228.38 309.90 223.37 311.80 220.70 C313.70 218.03 314.70 216.52 316.40 215.00 C318.10 213.48 320.40 212.27 322.00 211.60 C323.60 210.93 324.10 210.62 326.00 211.00 C327.90 211.38 331.40 212.65 333.40 213.90 C335.40 215.15 336.30 216.12 338.00 218.50 C339.70 220.88 341.85 224.62 343.60 228.20 C345.35 231.78 346.80 235.53 348.50 240.00 C350.20 244.47 352.38 251.00 353.80 255.00 C355.22 259.00 355.80 260.83 357.00 264.00 C358.20 267.17 360.33 272.33 361.00 274.00" stroke="#1d76c8" stroke-dasharray="3.5 1.5 1.3 1.5 1.3 1.5"/>
</g>
<rect x="304.30" y="259.10" width="43.50" height="56.20" fill="#fff" stroke="#8c8c8c" stroke-width="0.8"/>
<line x1="304.80" y1="263.50" x2="320.60" y2="263.50" stroke="#1c1a92" stroke-width="1.35"/>
<text x="322.56" y="266.28" font-size="7.20" font-family='"Liberation Sans", sans-serif' fill="#1e1e1e" textLength="18.69" lengthAdjust="spacingAndGlyphs">MBBA</text>
<line x1="304.80" y1="273.00" x2="320.60" y2="273.00" stroke="#f41e1e" stroke-width="1.35" stroke-dasharray="4.6 3.3"/>
<text x="322.89" y="275.78" font-size="7.20" font-family='"Liberation Sans", sans-serif' fill="#1e1e1e" textLength="24.38" lengthAdjust="spacingAndGlyphs">+ 0.01%</text>
<line x1="304.80" y1="282.50" x2="320.60" y2="282.50" stroke="#5cc228" stroke-width="1.35" stroke-dasharray="1.3 3.3"/>
<text x="322.89" y="285.28" font-size="7.20" font-family='"Liberation Sans", sans-serif' fill="#1e1e1e" textLength="24.38" lengthAdjust="spacingAndGlyphs">+ 0.05%</text>
<line x1="304.80" y1="292.00" x2="320.60" y2="292.00" stroke="#fb8a1e" stroke-width="1.35" stroke-dasharray="4.8 2 1.3 1.8"/>
<text x="322.89" y="294.78" font-size="7.20" font-family='"Liberation Sans", sans-serif' fill="#1e1e1e" textLength="20.72" lengthAdjust="spacingAndGlyphs">+ 0.1%</text>
<line x1="304.80" y1="301.50" x2="320.60" y2="301.50" stroke="#c02ee0" stroke-width="1.35" stroke-dasharray="2.2 1.5"/>
<text x="322.89" y="304.28" font-size="7.20" font-family='"Liberation Sans", sans-serif' fill="#1e1e1e" textLength="20.72" lengthAdjust="spacingAndGlyphs">+ 0.5%</text>
<line x1="304.80" y1="311.00" x2="320.60" y2="311.00" stroke="#1d76c8" stroke-width="1.35" stroke-dasharray="3.5 1.5 1.3 1.5 1.3 1.5"/>
<text x="322.89" y="313.78" font-size="7.20" font-family='"Liberation Sans", sans-serif' fill="#1e1e1e" textLength="15.22" lengthAdjust="spacingAndGlyphs">+ 1%</text>
<path d="M218.90 180.70 H360.50 M218.90 317.70 H360.50" fill="none" stroke="#1a1a1a" stroke-width="1.2"/>
<path d="M219.50 180.70 V317.70" fill="none" stroke="#1a1a1a" stroke-width="1.20"/>
<path d="M359.90 180.70 V317.70" fill="none" stroke="#8a8a8a" stroke-width="1.70"/>
<path d="M219.50 317.70v3.40 M227.47 317.70v2.00 M232.14 317.70v2.00 M235.45 317.70v2.00 M238.01 317.70v2.00 M240.11 317.70v2.00 M241.88 317.70v2.00 M243.42 317.70v2.00 M244.77 317.70v2.00 M245.99 317.70v3.40 M253.96 317.70v2.00 M258.62 317.70v2.00 M261.93 317.70v2.00 M264.50 317.70v2.00 M266.60 317.70v2.00 M268.37 317.70v2.00 M269.90 317.70v2.00 M271.26 317.70v2.00 M272.47 317.70v3.40 M280.44 317.70v2.00 M285.11 317.70v2.00 M288.42 317.70v2.00 M290.98 317.70v2.00 M293.08 317.70v2.00 M294.85 317.70v2.00 M296.39 317.70v2.00 M297.74 317.70v2.00 M298.96 317.70v3.40 M306.93 317.70v2.00 M311.59 317.70v2.00 M314.90 317.70v2.00 M317.47 317.70v2.00 M319.57 317.70v2.00 M321.34 317.70v2.00 M322.88 317.70v2.00 M324.23 317.70v2.00 M325.44 317.70v3.40 M333.42 317.70v2.00 M338.08 317.70v2.00 M341.39 317.70v2.00 M343.95 317.70v2.00 M346.05 317.70v2.00 M347.83 317.70v2.00 M349.36 317.70v2.00 M350.72 317.70v2.00 M351.93 317.70v3.40 M219.50 286.00h-2.00 M219.50 267.46h-2.00 M219.50 254.30h-2.00 M219.50 244.10h-2.00 M219.50 235.76h-2.00 M219.50 228.71h-2.00 M219.50 222.60h-2.00 M219.50 217.21h-2.00 M219.50 212.40h-3.40 M219.50 180.70h-2.00" stroke="#1a1a1a" stroke-width="0.9" fill="none"/>
<text transform="translate(219.90 331.60) scale(0.860 1)" font-size="7.50" font-family='"Liberation Sans", sans-serif' fill="#1e1e1e" text-anchor="middle">10<tspan dx="0.6" dy="-3.60" font-size="4.50">0</tspan></text>
<text transform="translate(246.39 331.60) scale(0.860 1)" font-size="7.50" font-family='"Liberation Sans", sans-serif' fill="#1e1e1e" text-anchor="middle">10<tspan dx="0.6" dy="-3.60" font-size="4.50">1</tspan></text>
<text transform="translate(272.87 331.60) scale(0.860 1)" font-size="7.50" font-family='"Liberation Sans", sans-serif' fill="#1e1e1e" text-anchor="middle">10<tspan dx="0.6" dy="-3.60" font-size="4.50">2</tspan></text>
<text transform="translate(299.36 331.60) scale(0.860 1)" font-size="7.50" font-family='"Liberation Sans", sans-serif' fill="#1e1e1e" text-anchor="middle">10<tspan dx="0.6" dy="-3.60" font-size="4.50">3</tspan></text>
<text transform="translate(325.84 331.60) scale(0.860 1)" font-size="7.50" font-family='"Liberation Sans", sans-serif' fill="#1e1e1e" text-anchor="middle">10<tspan dx="0.6" dy="-3.60" font-size="4.50">4</tspan></text>
<text transform="translate(352.33 331.60) scale(0.860 1)" font-size="7.50" font-family='"Liberation Sans", sans-serif' fill="#1e1e1e" text-anchor="middle">10<tspan dx="0.6" dy="-3.60" font-size="4.50">5</tspan></text>
<text transform="translate(214.20 215.10) scale(0.860 1)" font-size="7.50" font-family='"Liberation Sans", sans-serif' fill="#1e1e1e" text-anchor="end">0.1</text>
<text class="b" transform="translate(277.66 345.40) skewX(-10)" font-size="9.50" font-family='"Liberation Serif", serif' font-style="italic">f</text>
<text x="285.28" y="345.40" font-size="8.80" font-family='"Liberation Sans", sans-serif' fill="#1e1e1e" textLength="15.62" lengthAdjust="spacingAndGlyphs" class="b">(Hz)</text>
<text transform="translate(200.30 253.20) rotate(-90)" font-size="10.50" font-family='"Liberation Serif", serif' font-style="italic" fill="#1e1e1e">&#949;<tspan dx="0.3" dy="-0.2" font-size="8.92" font-family='"Liberation Sans", sans-serif' font-style="normal">&#8242;&#8242;</tspan></text>
<text x="252.40" y="216.00" font-size="10.00" font-family='"Liberation Sans", sans-serif' font-style="italic" fill="#1e1e1e" textLength="4.74" lengthAdjust="spacingAndGlyphs" class="b">T</text>
<text x="260.31" y="216.00" font-size="10.00" font-family='"Liberation Sans", sans-serif' fill="#1e1e1e" textLength="4.79" lengthAdjust="spacingAndGlyphs" class="b">=</text>
<text x="268.15" y="216.00" font-size="10.00" font-family='"Liberation Sans", sans-serif' fill="#1e1e1e" textLength="15.10" lengthAdjust="spacingAndGlyphs" class="b">210</text>
<text x="284.79" y="216.00" font-size="10.00" font-family='"Liberation Sans", sans-serif' fill="#1e1e1e" textLength="6.52" lengthAdjust="spacingAndGlyphs" class="b">K</text>
<clipPath id="c6"><rect x="408.90" y="186.90" width="136.30" height="131.10"/></clipPath>
<g clip-path="url(#c6)" fill="none" stroke-width="1.55" stroke-linejoin="round">
<path d="M408.90 245.50 C409.75 247.17 412.25 252.00 414.00 255.50 C415.75 259.00 417.57 262.58 419.40 266.50 C421.23 270.42 423.12 274.90 425.00 279.00 C426.88 283.10 429.03 287.60 430.70 291.10 C432.37 294.60 433.48 297.15 435.00 300.00 C436.52 302.85 438.30 305.87 439.80 308.20 C441.30 310.53 442.67 312.65 444.00 314.00 C445.33 315.35 446.55 316.22 447.80 316.30 C449.05 316.38 450.38 315.47 451.50 314.50 C452.62 313.53 453.47 312.17 454.50 310.50 C455.53 308.83 456.03 309.28 457.70 304.50 C459.37 299.72 462.42 289.37 464.50 281.80 C466.58 274.23 468.30 266.67 470.20 259.10 C472.10 251.53 474.38 242.08 475.90 236.40 C477.42 230.72 478.07 228.87 479.30 225.00 C480.53 221.13 481.93 216.78 483.30 213.20 C484.67 209.62 485.95 206.15 487.50 203.50 C489.05 200.85 491.03 198.57 492.60 197.30 C494.17 196.03 495.33 195.80 496.90 195.90 C498.47 196.00 500.48 196.72 502.00 197.90 C503.52 199.08 504.83 201.07 506.00 203.00 C507.17 204.93 507.87 207.08 509.00 209.50 C510.13 211.92 511.67 214.83 512.80 217.50 C513.93 220.17 514.82 222.73 515.80 225.50 C516.78 228.27 517.50 229.60 518.70 234.10 C519.90 238.60 521.52 246.10 523.00 252.50 C524.48 258.90 526.10 266.00 527.60 272.50 C529.10 279.00 530.53 285.17 532.00 291.50 C533.47 297.83 535.35 305.92 536.40 310.50 C537.45 315.08 537.87 317.08 538.30 319.00 C538.73 320.92 538.88 321.50 539.00 322.00" stroke="#1c1a92"/>
<path d="M408.90 259.10 C409.75 260.67 411.88 264.30 414.00 268.50 C416.12 272.70 419.43 280.47 421.60 284.30 C423.77 288.13 425.43 289.72 427.00 291.50 C428.57 293.28 429.82 294.28 431.00 295.00 C432.18 295.72 432.93 295.75 434.10 295.80 C435.27 295.85 436.52 295.93 438.00 295.30 C439.48 294.67 441.18 293.27 443.00 292.00 C444.82 290.73 447.22 289.70 448.90 287.70 C450.58 285.70 451.63 282.78 453.10 280.00 C454.57 277.22 456.18 273.92 457.70 271.00 C459.22 268.08 460.68 265.33 462.20 262.50 C463.72 259.67 465.28 256.92 466.80 254.00 C468.32 251.08 469.93 248.00 471.30 245.00 C472.67 242.00 473.72 238.73 475.00 236.00 C476.28 233.27 477.62 231.68 479.00 228.60 C480.38 225.52 481.88 220.63 483.30 217.50 C484.72 214.37 486.22 211.62 487.50 209.80 C488.78 207.98 489.75 207.02 491.00 206.60 C492.25 206.18 493.58 206.77 495.00 207.30 C496.42 207.83 498.33 208.95 499.50 209.80 C500.67 210.65 501.07 211.20 502.00 212.40 C502.93 213.60 504.02 214.82 505.10 217.00 C506.18 219.18 507.37 222.65 508.50 225.50 C509.63 228.35 510.48 229.83 511.90 234.10 C513.32 238.37 515.50 246.95 517.00 251.10 C518.50 255.25 519.48 254.85 520.90 259.00 C522.32 263.15 523.95 270.30 525.50 276.00 C527.05 281.70 528.95 288.37 530.20 293.20 C531.45 298.03 532.12 300.87 533.00 305.00 C533.88 309.13 535.00 315.17 535.50 318.00 C536.00 320.83 535.92 321.33 536.00 322.00" stroke="#f41e1e" stroke-dasharray="4.6 3.3"/>
<path d="M408.90 282.00 C409.75 283.75 412.32 289.33 414.00 292.50 C415.68 295.67 417.33 298.67 419.00 301.00 C420.67 303.33 422.23 305.23 424.00 306.50 C425.77 307.77 427.77 308.60 429.60 308.60 C431.43 308.60 432.92 308.08 435.00 306.50 C437.08 304.92 439.93 301.85 442.10 299.10 C444.27 296.35 446.35 292.85 448.00 290.00 C449.65 287.15 450.72 284.67 452.00 282.00 C453.28 279.33 454.32 277.25 455.70 274.00 C457.08 270.75 458.92 266.00 460.30 262.50 C461.68 259.00 462.58 256.38 464.00 253.00 C465.42 249.62 466.87 246.13 468.80 242.20 C470.73 238.27 473.33 233.80 475.60 229.40 C477.87 225.00 480.42 219.77 482.40 215.80 C484.38 211.83 485.90 208.12 487.50 205.60 C489.10 203.08 490.42 201.42 492.00 200.70 C493.58 199.98 495.50 200.67 497.00 201.30 C498.50 201.93 499.78 203.30 501.00 204.50 C502.22 205.70 503.05 206.42 504.30 208.50 C505.55 210.58 506.80 212.73 508.50 217.00 C510.20 221.27 512.65 228.42 514.50 234.10 C516.35 239.78 518.35 247.03 519.60 251.10 C520.85 255.17 520.85 254.35 522.00 258.50 C523.15 262.65 525.00 270.22 526.50 276.00 C528.00 281.78 529.75 288.20 531.00 293.20 C532.25 298.20 533.08 301.87 534.00 306.00 C534.92 310.13 536.00 315.33 536.50 318.00 C537.00 320.67 536.92 321.33 537.00 322.00" stroke="#5cc228" stroke-dasharray="1.3 3.3"/>
<path d="M408.90 219.00 C409.75 220.42 412.25 224.60 414.00 227.50 C415.75 230.40 417.73 233.57 419.40 236.40 C421.07 239.23 422.48 241.85 424.00 244.50 C425.52 247.15 427.17 250.25 428.50 252.30 C429.83 254.35 430.68 255.60 432.00 256.80 C433.32 258.00 434.90 259.22 436.40 259.50 C437.90 259.78 439.57 259.25 441.00 258.50 C442.43 257.75 443.68 256.42 445.00 255.00 C446.32 253.58 447.23 252.50 448.90 250.00 C450.57 247.50 452.82 243.50 455.00 240.00 C457.18 236.50 459.70 233.18 462.00 229.00 C464.30 224.82 466.53 219.23 468.80 214.90 C471.07 210.57 473.33 206.40 475.60 203.00 C477.87 199.60 480.13 196.62 482.40 194.50 C484.67 192.38 487.35 191.10 489.20 190.30 C491.05 189.50 491.80 189.42 493.50 189.70 C495.20 189.98 497.82 190.87 499.40 192.00 C500.98 193.13 501.82 194.58 503.00 196.50 C504.18 198.42 505.33 201.00 506.50 203.50 C507.67 206.00 508.75 208.42 510.00 211.50 C511.25 214.58 512.52 218.17 514.00 222.00 C515.48 225.83 517.33 229.42 518.90 234.50 C520.47 239.58 521.88 246.17 523.40 252.50 C524.92 258.83 526.50 266.00 528.00 272.50 C529.50 279.00 530.93 285.17 532.40 291.50 C533.87 297.83 535.75 305.92 536.80 310.50 C537.85 315.08 538.27 317.08 538.70 319.00 C539.13 320.92 539.28 321.50 539.40 322.00" stroke="#fb8a1e" stroke-dasharray="4.8 2 1.3 1.8"/>
<path d="M408.90 218.60 C409.75 220.17 412.25 224.67 414.00 228.00 C415.75 231.33 417.73 235.27 419.40 238.60 C421.07 241.93 422.48 244.97 424.00 248.00 C425.52 251.03 427.00 254.22 428.50 256.80 C430.00 259.38 431.58 261.55 433.00 263.50 C434.42 265.45 435.48 267.02 437.00 268.50 C438.52 269.98 440.60 272.07 442.10 272.40 C443.60 272.73 444.87 271.07 446.00 270.50 C447.13 269.93 447.40 270.75 448.90 269.00 C450.40 267.25 452.82 264.05 455.00 260.00 C457.18 255.95 459.70 249.08 462.00 244.70 C464.30 240.32 466.53 237.53 468.80 233.70 C471.07 229.87 473.33 225.12 475.60 221.70 C477.87 218.28 480.42 215.18 482.40 213.20 C484.38 211.22 486.15 210.50 487.50 209.80 C488.85 209.10 489.25 208.85 490.50 209.00 C491.75 209.15 493.50 209.72 495.00 210.70 C496.50 211.68 498.33 213.60 499.50 214.90 C500.67 216.20 500.78 215.30 502.00 218.50 C503.22 221.70 505.00 228.67 506.80 234.10 C508.60 239.53 511.10 246.87 512.80 251.10 C514.50 255.33 515.57 255.42 517.00 259.50 C518.43 263.58 519.78 269.98 521.40 275.60 C523.02 281.22 525.08 287.33 526.70 293.20 C528.32 299.07 530.07 306.67 531.10 310.80 C532.13 314.93 532.53 316.13 532.90 318.00 C533.27 319.87 533.23 321.33 533.30 322.00" stroke="#c02ee0" stroke-dasharray="2.2 1.5"/>
<path d="M408.90 226.10 C409.75 227.67 412.25 232.27 414.00 235.50 C415.75 238.73 417.73 242.33 419.40 245.50 C421.07 248.67 422.48 251.67 424.00 254.50 C425.52 257.33 427.00 260.08 428.50 262.50 C430.00 264.92 431.30 267.12 433.00 269.00 C434.70 270.88 436.87 273.38 438.70 273.80 C440.53 274.22 442.30 272.43 444.00 271.50 C445.70 270.57 447.07 270.37 448.90 268.20 C450.73 266.03 452.82 263.12 455.00 258.50 C457.18 253.88 459.70 245.48 462.00 240.50 C464.30 235.52 466.53 232.58 468.80 228.60 C471.07 224.62 473.33 220.15 475.60 216.60 C477.87 213.05 480.42 209.57 482.40 207.30 C484.38 205.03 486.23 203.85 487.50 203.00 C488.77 202.15 488.75 202.05 490.00 202.20 C491.25 202.35 493.50 203.02 495.00 203.90 C496.50 204.78 497.60 205.32 499.00 207.50 C500.40 209.68 502.10 214.00 503.40 217.00 C504.70 220.00 505.67 222.65 506.80 225.50 C507.93 228.35 508.63 229.83 510.20 234.10 C511.77 238.37 514.62 247.03 516.20 251.10 C517.78 255.17 518.32 254.35 519.70 258.50 C521.08 262.65 522.90 270.22 524.50 276.00 C526.10 281.78 527.97 288.20 529.30 293.20 C530.63 298.20 531.62 301.87 532.50 306.00 C533.38 310.13 534.18 315.33 534.60 318.00 C535.02 320.67 534.93 321.33 535.00 322.00" stroke="#1d76c8" stroke-dasharray="3.5 1.5 1.3 1.5 1.3 1.5"/>
</g>
<rect x="473.40" y="263.20" width="42.90" height="54.80" fill="#fff" stroke="#8c8c8c" stroke-width="0.8"/>
<line x1="474.00" y1="268.00" x2="489.00" y2="268.00" stroke="#1c1a92" stroke-width="1.35"/>
<text x="490.76" y="270.71" font-size="7.00" font-family='"Liberation Sans", sans-serif' fill="#1e1e1e" textLength="18.71" lengthAdjust="spacingAndGlyphs">MBBA</text>
<line x1="474.00" y1="277.30" x2="489.00" y2="277.30" stroke="#f41e1e" stroke-width="1.35" stroke-dasharray="4.6 3.3"/>
<text x="491.39" y="280.01" font-size="7.00" font-family='"Liberation Sans", sans-serif' fill="#1e1e1e" textLength="24.41" lengthAdjust="spacingAndGlyphs">+ 0.01%</text>
<line x1="474.00" y1="286.60" x2="489.00" y2="286.60" stroke="#5cc228" stroke-width="1.35" stroke-dasharray="1.3 3.3"/>
<text x="491.39" y="289.31" font-size="7.00" font-family='"Liberation Sans", sans-serif' fill="#1e1e1e" textLength="24.41" lengthAdjust="spacingAndGlyphs">+ 0.05%</text>
<line x1="474.00" y1="295.90" x2="489.00" y2="295.90" stroke="#fb8a1e" stroke-width="1.35" stroke-dasharray="4.8 2 1.3 1.8"/>
<text x="491.39" y="298.61" font-size="7.00" font-family='"Liberation Sans", sans-serif' fill="#1e1e1e" textLength="20.74" lengthAdjust="spacingAndGlyphs">+ 0.1%</text>
<line x1="474.00" y1="305.20" x2="489.00" y2="305.20" stroke="#c02ee0" stroke-width="1.35" stroke-dasharray="2.2 1.5"/>
<text x="491.39" y="307.91" font-size="7.00" font-family='"Liberation Sans", sans-serif' fill="#1e1e1e" textLength="20.74" lengthAdjust="spacingAndGlyphs">+ 0.5%</text>
<line x1="474.00" y1="314.50" x2="489.00" y2="314.50" stroke="#1d76c8" stroke-width="1.35" stroke-dasharray="3.5 1.5 1.3 1.5 1.3 1.5"/>
<text x="491.39" y="317.21" font-size="7.00" font-family='"Liberation Sans", sans-serif' fill="#1e1e1e" textLength="15.23" lengthAdjust="spacingAndGlyphs">+ 1%</text>
<path d="M408.30 186.90 H545.80 M408.30 318.00 H545.80" fill="none" stroke="#1a1a1a" stroke-width="1.2"/>
<path d="M408.90 186.90 V318.00" fill="none" stroke="#7a7a7a" stroke-width="1.60"/>
<path d="M545.20 186.90 V318.00" fill="none" stroke="#1a1a1a" stroke-width="1.20"/>
<path d="M408.90 318.00v3.40 M416.64 318.00v2.00 M421.17 318.00v2.00 M424.38 318.00v2.00 M426.87 318.00v2.00 M428.91 318.00v2.00 M430.63 318.00v2.00 M432.12 318.00v2.00 M433.44 318.00v2.00 M434.61 318.00v3.40 M442.35 318.00v2.00 M446.88 318.00v2.00 M450.09 318.00v2.00 M452.58 318.00v2.00 M454.62 318.00v2.00 M456.34 318.00v2.00 M457.83 318.00v2.00 M459.15 318.00v2.00 M460.32 318.00v3.40 M468.06 318.00v2.00 M472.59 318.00v2.00 M475.80 318.00v2.00 M478.30 318.00v2.00 M480.33 318.00v2.00 M482.05 318.00v2.00 M483.54 318.00v2.00 M484.86 318.00v2.00 M486.04 318.00v3.40 M493.78 318.00v2.00 M498.30 318.00v2.00 M501.52 318.00v2.00 M504.01 318.00v2.00 M506.04 318.00v2.00 M507.77 318.00v2.00 M509.26 318.00v2.00 M510.57 318.00v2.00 M511.75 318.00v3.40 M519.49 318.00v2.00 M524.02 318.00v2.00 M527.23 318.00v2.00 M529.72 318.00v2.00 M531.76 318.00v2.00 M533.48 318.00v2.00 M534.97 318.00v2.00 M536.28 318.00v2.00 M537.46 318.00v3.40 M408.90 274.30h-3.40 M408.90 248.73h-2.00 M408.90 230.59h-3.40 M408.90 216.52h-2.00 M408.90 205.03h-3.40 M408.90 195.31h-2.00 M408.90 186.89h-3.40" stroke="#1a1a1a" stroke-width="0.9" fill="none"/>
<text transform="translate(409.30 331.60) scale(0.860 1)" font-size="7.50" font-family='"Liberation Sans", sans-serif' fill="#1e1e1e" text-anchor="middle">10<tspan dx="0.6" dy="-3.60" font-size="4.50">0</tspan></text>
<text transform="translate(435.01 331.60) scale(0.860 1)" font-size="7.50" font-family='"Liberation Sans", sans-serif' fill="#1e1e1e" text-anchor="middle">10<tspan dx="0.6" dy="-3.60" font-size="4.50">1</tspan></text>
<text transform="translate(460.72 331.60) scale(0.860 1)" font-size="7.50" font-family='"Liberation Sans", sans-serif' fill="#1e1e1e" text-anchor="middle">10<tspan dx="0.6" dy="-3.60" font-size="4.50">2</tspan></text>
<text transform="translate(486.44 331.60) scale(0.860 1)" font-size="7.50" font-family='"Liberation Sans", sans-serif' fill="#1e1e1e" text-anchor="middle">10<tspan dx="0.6" dy="-3.60" font-size="4.50">3</tspan></text>
<text transform="translate(512.15 331.60) scale(0.860 1)" font-size="7.50" font-family='"Liberation Sans", sans-serif' fill="#1e1e1e" text-anchor="middle">10<tspan dx="0.6" dy="-3.60" font-size="4.50">4</tspan></text>
<text transform="translate(537.86 331.60) scale(0.860 1)" font-size="7.50" font-family='"Liberation Sans", sans-serif' fill="#1e1e1e" text-anchor="middle">10<tspan dx="0.6" dy="-3.60" font-size="4.50">5</tspan></text>
<text transform="translate(404.20 277.00) scale(0.860 1)" font-size="7.50" font-family='"Liberation Sans", sans-serif' fill="#1e1e1e" text-anchor="end">0.02</text>
<text transform="translate(404.20 233.29) scale(0.860 1)" font-size="7.50" font-family='"Liberation Sans", sans-serif' fill="#1e1e1e" text-anchor="end">0.04</text>
<text transform="translate(404.20 207.73) scale(0.860 1)" font-size="7.50" font-family='"Liberation Sans", sans-serif' fill="#1e1e1e" text-anchor="end">0.06</text>
<text transform="translate(404.20 189.59) scale(0.860 1)" font-size="7.50" font-family='"Liberation Sans", sans-serif' fill="#1e1e1e" text-anchor="end">0.08</text>
<text class="b" transform="translate(464.76 345.40) skewX(-10)" font-size="9.50" font-family='"Liberation Serif", serif' font-style="italic">f</text>
<text x="472.69" y="345.40" font-size="8.80" font-family='"Liberation Sans", sans-serif' fill="#1e1e1e" textLength="15.30" lengthAdjust="spacingAndGlyphs" class="b">(Hz)</text>
<text transform="translate(386.70 256.90) rotate(-90)" font-size="10.50" font-family='"Liberation Serif", serif' font-style="italic" fill="#1e1e1e">&#949;<tspan dx="0.3" dy="-0.2" font-size="8.92" font-family='"Liberation Sans", sans-serif' font-style="normal">&#8242;&#8242;</tspan></text>
<text x="418.40" y="209.60" font-size="10.00" font-family='"Liberation Sans", sans-serif' font-style="italic" fill="#1e1e1e" textLength="4.74" lengthAdjust="spacingAndGlyphs" class="b">T</text>
<text x="426.31" y="209.60" font-size="10.00" font-family='"Liberation Sans", sans-serif' fill="#1e1e1e" textLength="4.79" lengthAdjust="spacingAndGlyphs" class="b">=</text>
<text x="433.98" y="209.60" font-size="10.00" font-family='"Liberation Sans", sans-serif' fill="#1e1e1e" textLength="13.76" lengthAdjust="spacingAndGlyphs" class="b">195</text>
<text x="449.29" y="209.60" font-size="10.00" font-family='"Liberation Sans", sans-serif' fill="#1e1e1e" textLength="6.52" lengthAdjust="spacingAndGlyphs" class="b">K</text>
</svg>
</body></html>
